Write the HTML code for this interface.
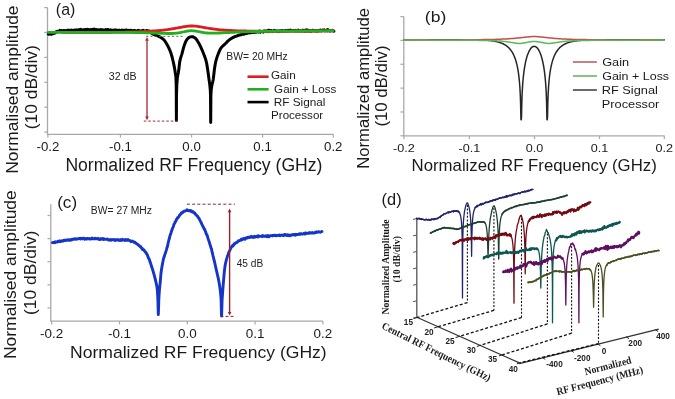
<!DOCTYPE html>
<html><head><meta charset="utf-8"><style>
html,body{margin:0;padding:0;background:#fff;}
svg{display:block;filter:blur(0.25px);}
</style></head><body>
<svg width="675" height="399" viewBox="0 0 675 399">
<rect width="675" height="399" fill="#fff"/>
<line x1="47.5" y1="7.6" x2="47.5" y2="134.4" stroke="#a8a8a8" stroke-width="1.3" />
<line x1="46.9" y1="134.4" x2="333.6" y2="134.4" stroke="#a8a8a8" stroke-width="1.3" />
<line x1="44.2" y1="7.6" x2="47.5" y2="7.6" stroke="#a8a8a8" stroke-width="1.2" />
<line x1="44.2" y1="32.5" x2="47.5" y2="32.5" stroke="#a8a8a8" stroke-width="1.2" />
<line x1="44.2" y1="57.4" x2="47.5" y2="57.4" stroke="#a8a8a8" stroke-width="1.2" />
<line x1="44.2" y1="82.3" x2="47.5" y2="82.3" stroke="#a8a8a8" stroke-width="1.2" />
<line x1="44.2" y1="107.2" x2="47.5" y2="107.2" stroke="#a8a8a8" stroke-width="1.2" />
<line x1="44.2" y1="132.1" x2="47.5" y2="132.1" stroke="#a8a8a8" stroke-width="1.2" />
<line x1="47.9" y1="134.4" x2="47.9" y2="137.6" stroke="#a8a8a8" stroke-width="1.2" />
<text x="47.9" y="150.9" font-family='"Liberation Sans", sans-serif' font-size="12.5" font-weight="normal" fill="#1a1a1a" text-anchor="middle" textLength="22.83" lengthAdjust="spacingAndGlyphs" >-0.2</text>
<line x1="120.4" y1="134.4" x2="120.4" y2="137.6" stroke="#a8a8a8" stroke-width="1.2" />
<text x="120.4" y="150.9" font-family='"Liberation Sans", sans-serif' font-size="12.5" font-weight="normal" fill="#1a1a1a" text-anchor="middle" textLength="22.83" lengthAdjust="spacingAndGlyphs" >-0.1</text>
<line x1="191.6" y1="134.4" x2="191.6" y2="137.6" stroke="#a8a8a8" stroke-width="1.2" />
<text x="191.6" y="150.9" font-family='"Liberation Sans", sans-serif' font-size="12.5" font-weight="normal" fill="#1a1a1a" text-anchor="middle" textLength="18.42" lengthAdjust="spacingAndGlyphs" >0.0</text>
<line x1="262.6" y1="134.4" x2="262.6" y2="137.6" stroke="#a8a8a8" stroke-width="1.2" />
<text x="262.6" y="150.9" font-family='"Liberation Sans", sans-serif' font-size="12.5" font-weight="normal" fill="#1a1a1a" text-anchor="middle" textLength="18.42" lengthAdjust="spacingAndGlyphs" >0.1</text>
<line x1="333.3" y1="134.4" x2="333.3" y2="137.6" stroke="#a8a8a8" stroke-width="1.2" />
<text x="333.3" y="150.9" font-family='"Liberation Sans", sans-serif' font-size="12.5" font-weight="normal" fill="#1a1a1a" text-anchor="middle" textLength="18.42" lengthAdjust="spacingAndGlyphs" >0.2</text>
<text x="65.39" y="170.6" font-family='"Liberation Sans", sans-serif' font-size="17.6" font-weight="normal" fill="#1a1a1a" text-anchor="start" textLength="257.04" lengthAdjust="spacingAndGlyphs" >Normalized RF Frequency (GHz)</text>
<text x="18.4" y="173.79" font-family='"Liberation Sans", sans-serif' font-size="17.4" font-weight="normal" fill="#1a1a1a" text-anchor="start" textLength="168.3" lengthAdjust="spacingAndGlyphs" transform="rotate(-90 18.4 173.79)" >Normalised amplitude</text>
<text x="37" y="129.24" font-family='"Liberation Sans", sans-serif' font-size="16.6" font-weight="normal" fill="#1a1a1a" text-anchor="start" textLength="84.1" lengthAdjust="spacingAndGlyphs" transform="rotate(-90 37 129.24)" >(10 dB/div)</text>
<text x="55.85" y="14.5" font-family='"Liberation Sans", sans-serif' font-size="16.8" font-weight="normal" fill="#1a1a1a" text-anchor="start" textLength="19.45" lengthAdjust="spacingAndGlyphs" >(a)</text>
<text x="226.37" y="59.8" font-family='"Liberation Sans", sans-serif' font-size="10" font-weight="normal" fill="#222" text-anchor="start" textLength="61.33" lengthAdjust="spacingAndGlyphs" >BW= 20 MHz</text>
<text x="108.88" y="79.7" font-family='"Liberation Sans", sans-serif' font-size="10" font-weight="normal" fill="#222" text-anchor="start" textLength="27.69" lengthAdjust="spacingAndGlyphs" >32 dB</text>
<path d="M48.3,34.2 48.8,34.3 49.3,34.1 49.8,33.8 50.3,33.9 50.8,33.7 51,34 51.3,34.4 51.8,33.7 52.3,33.6 52.8,33.8 53.3,33.6 53.8,33.4 54,33 54.3,33.2 54.8,33.2 55.3,32.3 55.8,32.3 56.3,31.6 56.8,31.6 57,31.4 57.3,31.8 57.8,31.3 58.3,31.7 58.8,31.6 59.3,31.4 59.8,30.4 60,31.1 60.3,31.2 60.8,31.2 61.3,30.6 61.8,30.9 62.3,30.7 62.8,30.7 63.3,31.3 63.8,30.6 64.3,30.8 64.8,31.1 65,30.6 65.3,30.7 65.8,30.8 66.3,30.7 66.8,30.3 67.3,30.7 67.8,31.1 68.3,30.1 68.8,30.9 69.3,30.6 69.8,30.3 70.3,31.2 70.8,30.8 71.3,30 71.8,30.5 72.3,30.6 72.8,30.3 73.3,30.6 73.8,30.3 74.3,30.6 74.8,30.8 75,30.1 75.3,30.4 75.8,30.1 76.3,30.3 76.8,29.8 77.3,30 77.8,30.1 78.3,30.4 78.8,30.5 79.3,29.6 79.8,29.7 80.3,30.2 80.8,29.3 81.3,29.8 81.8,29.9 82.3,30.3 82.8,30.1 83.3,29.7 83.8,29.7 84.3,29.7 84.8,30.3 85.3,29.6 85.8,29.6 86.3,29.8 86.8,29.7 87.3,29.6 87.4,29.3 87.8,29.7 88.3,29.5 88.8,30.1 89.3,29.9 89.8,29.7 90.3,30 90.8,29.6 91.3,30.1 91.8,29.8 92.3,30 92.8,29.3 93.3,29.9 93.8,29.2 94.3,29.1 94.8,29.7 95.3,29.5 95.8,29.9 96.3,30.7 96.8,29.6 97.3,29.7 97.8,30 98.3,30.1 98.8,29.9 99.3,29.9 99.8,30.2 100,30.2 100.3,29.6 100.8,30 101.3,30 101.8,29.7 102.3,30.2 102.8,29.8 103.3,30.4 103.8,30.2 104.3,30.1 104.8,29.9 105.3,30.1 105.8,29.5 106.3,29.8 106.8,30.3 107.3,29.5 107.8,30.5 108.3,29.6 108.8,30.5 109.3,30 109.8,30.5 110.3,30.3 110.8,29.8 111.3,30.7 111.8,30.8 112.3,30.3 112.8,30.3 113.3,30.3 113.8,30 114.3,30.8 114.8,30.2 115,30.4 115.3,30.1 115.8,30.2 116.3,30 116.8,30.9 117.3,30.4 117.8,30.8 118.3,30.5 118.8,30.2 119.3,30.4 119.8,30.3 120.3,30.5 120.8,30.4 121.3,30.4 121.8,30.1 122.3,30.3 122.8,31.2 123.3,30.4 123.8,30.2 124.3,30.7 124.8,31.1 125.3,30.1 125.8,30.6 126.3,30.4 126.8,30 127.3,30.9 127.8,30.7 128.3,30.7 128.8,30.4 129.3,30.9 129.8,30.5 130,30.6 130.3,30.3 130.8,30.3 131.3,31.2 131.8,30.5 132.3,30.8 132.8,30.7 133.3,30.6 133.8,30.6 134.3,31 134.8,30.6 135.3,30.7 135.8,30.7 136.3,31.2 136.8,31 137.3,30.9 137.8,30.6 138.3,30.3 138.8,31.1 139.3,31.1 139.8,30.7 140.3,31 140.8,31 141.3,31.1 141.8,31.1 142.3,30.6 142.8,31.3 143.3,30.4 143.8,31.1 144.3,31 144.8,31.2 145.3,31.6 145.8,31.5 146.3,30.7 146.8,30.5 147.3,31.5 147.8,30.9 148,31.3 148.3,31.7 148.8,30.9 149.3,31 149.8,32.1 150.3,32.3 150.8,32.6 151.3,32.9 151.8,33.3 152.3,33.6 152.8,33.9 153.3,34.2 153.8,34.5 154,34.6 154.3,34.7 154.8,34.9 155.3,35.1 155.8,35.3 156.3,35.5 156.8,35.7 157.3,35.9 157.8,36 158.3,36.2 158.8,36.4 159.3,36.7 159.8,36.9 160,37 160.3,37.2 160.8,37.5 161.3,37.8 161.8,38.1 162.3,38.5 162.8,38.9 163.3,39.3 163.8,39.8 164,40 164.3,40.3 164.8,41 165.3,41.7 165.8,42.5 166.3,43.3 166.8,44.2 167,44.5 167.3,45 167.8,45.9 168.3,46.9 168.8,48 169.3,49 169.5,49.5 169.8,50.2 170.3,51.4 170.8,52.8 171.2,54 171.3,54.3 171.8,56 172.3,57.9 172.8,60 173.3,62.1 173.5,63 173.8,64.4 174.3,66.9 174.5,68 174.8,69.8 175.3,73 175.8,76 175.9,77 176.2,85 176.3,95 176.4,120.4 176.5,95 176.8,85 177.3,78.6 177.5,77 177.8,75.3 178.3,73 178.8,69.6 179,68 179.3,65.2 179.7,61.9 179.8,61.4 180.3,59.1 180.8,57.4 181.3,55.9 181.8,54.4 181.9,54 182.3,52.5 182.8,50.6 183.3,48.6 183.8,46.8 184.2,45.6 184.3,45.3 184.8,43.9 185.3,42.6 185.8,41.4 186.3,40.5 186.6,40 186.8,39.7 187.3,39.1 187.8,38.5 188.3,38 188.8,37.6 189.3,37.3 189.6,37.2 189.8,37.1 190.3,37 190.8,36.9 191.3,36.8 191.8,36.7 192.1,36.7 192.3,36.7 192.8,36.8 193.3,37 193.8,37.2 194.3,37.5 194.8,37.8 195.1,38 195.3,38.1 195.8,38.6 196.3,39.2 196.8,39.9 197.3,40.7 197.8,41.5 198.1,42 198.3,42.3 198.8,43.2 199.3,44.2 199.8,45.2 200,45.6 200.3,46.2 200.8,47.2 201.3,48.3 201.8,49.4 202.3,50.5 202.8,51.7 203.3,53 203.8,54.3 204.3,55.5 204.8,56.9 205.3,58.3 205.8,59.9 206.3,61.8 206.7,63.5 206.8,64 207.3,67.3 207.4,68 207.8,70.6 208.3,74 208.8,77.7 209.1,80 209.3,81.4 209.8,85.1 210,87 210.3,90.4 210.5,95 210.7,122.6 210.8,109.4 210.9,95 211.3,89 211.6,87 211.8,85.7 212.3,83.5 212.8,81.5 213.1,80 213.3,78.7 213.8,74.8 213.9,74 214.3,70.4 214.6,68 214.8,66.7 215.3,63.8 215.7,61.9 215.8,61.5 216.3,59.6 216.8,57.9 217.3,56.4 217.8,55 218,54.5 218.3,53.7 218.8,52.5 219.3,51.3 219.8,50.1 220.3,49.1 220.8,48.3 221,48 221.3,47.6 221.8,47 222.3,46.5 222.8,46 223.3,45.5 223.8,45.1 224.3,44.7 224.8,44.2 225,44 225.3,43.7 225.8,43.2 226.3,42.7 226.8,42.1 227.3,41.6 227.8,41.1 228.3,40.7 228.8,40.2 229.1,40 229.3,39.8 229.8,39.5 230.3,39.1 230.8,38.8 231.3,38.5 231.8,38.2 232.3,37.9 232.8,37.7 233.1,37.5 233.3,37.4 233.8,37.2 234.3,36.9 234.8,36.7 235.3,36.5 235.8,36.3 236.3,36.1 236.8,36 237.3,35.8 237.8,35.6 238.1,35.5 238.3,35.4 238.8,35.3 239.3,35.1 239.8,34.9 240.3,34.8 240.8,34.9 241.3,33.9 241.8,34.3 242.3,34 242.8,33.7 243.3,34.2 243.8,33.6 244.3,34.2 244.8,33.3 245.2,33.6 245.3,33.4 245.8,33.1 246.3,33.5 246.8,33.1 247.3,33.3 247.8,33 248.3,32.5 248.8,32.8 249.3,32.8 249.8,33 250.3,32.3 250.8,32.5 251.3,31.8 251.8,32.6 252.3,31.9 252.8,31.6 253.3,32.1 253.8,32.5 254.3,31.5 254.8,31.6 255,31.7 255.3,31.6 255.8,32.1 256.3,31.6 256.8,31.6 257.3,32 257.8,31.5 258.3,31.9 258.8,31.4 259.3,31.3 259.8,31 260.3,32.3 260.8,31.5 261.3,31.6 261.8,31.5 262.3,31.6 262.8,31.5 263.3,32.1 263.8,31.1 264.3,30.9 264.8,31 265.3,30.9 265.8,31.6 266.3,31.6 266.8,31 267.3,30.8 267.8,31.1 268.3,31.7 268.8,30.2 269.3,31.4 269.8,30.8 270,31.6 270.3,30.8 270.8,31.1 271.3,30.6 271.8,30.8 272.3,31.6 272.8,31.4 273.3,31 273.8,30.8 274.3,30.4 274.8,31 275.3,31.1 275.8,31.1 276.3,31 276.8,30.7 277.3,31 277.8,31 278.3,31.5 278.8,31.7 279.3,31 279.8,30.8 280.3,31 280.8,30.8 281.3,30.7 281.8,31 282.3,30.6 282.8,31.2 283.3,30.9 283.8,31.1 284.3,30.9 284.8,30.7 285.3,30.6 285.8,30.9 286.3,30.7 286.8,31 287.3,30.9 287.8,30.4 288.3,30.9 288.8,30.4 289.3,30.7 289.8,30.8 290.3,30.2 290.8,30.9 291.3,30.9 291.8,30.8 292.3,30.7 292.8,30.7 293.3,30.5 293.8,30.8 294.3,30.7 294.8,30.9 295.3,30.4 295.8,30.9 296.3,30.9 296.8,30.8 297.3,30.7 297.8,31 298.3,30.2 298.8,31 299.3,30.9 299.8,30.9 300,30.9 300.3,30.6 300.8,30.7 301.3,31 301.8,30.9 302.3,30.8 302.8,30.2 303.3,31 303.8,31.2 304.3,31.1 304.8,30.8 305.3,30.2 305.8,31.1 306.3,30.7 306.8,29.8 307.3,30.9 307.8,30.2 308.3,30.3 308.8,30.5 309.3,31.1 309.8,30.6 310.3,30.8 310.8,31.3 311.3,31.2 311.8,30.6 312.3,30.6 312.8,30.2 313.3,30.4 313.8,30.8 314.3,30.8 314.8,30.7 315.3,31 315.8,30.4 316.3,30.6 316.8,30.9 317.3,30.8 317.8,31 318.3,30.8 318.8,30.5 319.3,30.7 319.8,30.3 320.3,30 320.8,30.8 321.3,30.6 321.8,30.7 322.3,30 322.8,30.5 323.3,30.4 323.8,30.3 324.3,29.8 324.8,30.4 325.3,30.9 325.8,30.7 326.3,30.3 326.8,30.5 327.3,30.8 327.8,29.6 328.3,30.5 328.8,30.7 329.3,30.8 329.8,31.1 330.3,30.9 330.8,30.6 331.3,30.6 331.8,30.8 332.3,30.3 332.8,30.5 333.3,30.8 333.8,31.2" fill="none" stroke="#000" stroke-width="3.0" stroke-linejoin="round" stroke-linecap="round" />
<path d="M62,32.4 63,32.4 64,32.4 65,32.4 66,32.4 67,32.4 68,32.4 69,32.4 70,32.4 71,32.4 72,32.4 73,32.4 74,32.4 75,32.4 76,32.4 77,32.4 78,32.4 79,32.4 80,32.4 81,32.4 82,32.4 83,32.4 84,32.4 85,32.4 86,32.4 87,32.4 88,32.4 89,32.4 90,32.4 91,32.4 92,32.4 93,32.4 94,32.4 95,32.4 96,32.4 97,32.4 98,32.4 99,32.4 100,32.4 101,32.4 102,32.4 103,32.3 104,32.3 105,32.3 106,32.3 107,32.3 108,32.3 109,32.3 110,32.3 111,32.3 112,32.3 113,32.2 114,32.2 115,32.2 116,32.2 117,32.2 118,32.2 119,32.2 120,32.1 121,32.1 122,32.1 123,32.1 124,32.1 125,32.1 126,32 127,32 128,32 129,32 130,32 131,31.9 132,31.9 133,31.9 134,31.9 135,31.8 136,31.8 137,31.8 138,31.8 139,31.7 140,31.7 141,31.7 142,31.6 143,31.6 144,31.5 145,31.5 146,31.4 147,31.4 148,31.3 149,31.3 150,31.2 151,31.2 152,31.1 153,31 154,31 155,30.9 156,30.8 157,30.7 158,30.6 159,30.6 160,30.5 161,30.4 162,30.3 163,30.2 164,30 165,29.9 166,29.8 167,29.7 168,29.5 169,29.4 170,29.2 171,29.1 172,28.9 173,28.7 174,28.6 175,28.4 176,28.2 177,28 178,27.8 179,27.6 180,27.4 181,27.3 182,27.1 183,26.9 184,26.7 185,26.6 186,26.4 187,26.3 188,26.2 189,26.1 190,26 191,26 192,26 193,26 194,26.1 195,26.1 196,26.2 197,26.3 198,26.5 199,26.6 200,26.8 201,26.9 202,27.1 203,27.3 204,27.5 205,27.6 206,27.8 207,28 208,28.2 209,28.3 210,28.5 211,28.6 212,28.8 213,28.9 214,29.1 215,29.2 216,29.3 217,29.4 218,29.6 219,29.7 220,29.8 221,29.9 222,29.9 223,30 224,30.1 225,30.2 226,30.2 227,30.3 228,30.4 229,30.4 230,30.5 231,30.5 232,30.6 233,30.6 234,30.7 235,30.7 236,30.8 237,30.8 238,30.8 239,30.9 240,30.9 241,30.9 242,30.9 243,31 244,31 245,31 246,31 247,31.1 248,31.1 249,31.1 250,31.1 251,31.1 252,31.1 253,31.1 254,31.2 255,31.2 256,31.2 257,31.2 258,31.2 259,31.2 260,31.2 261,31.2 262,31.2 263,31.2 264,31.2 265,31.2 266,31.2 267,31.2 268,31.3 269,31.3 270,31.3 271,31.3 272,31.3 273,31.3 274,31.3 275,31.3 276,31.3 277,31.3 278,31.3 279,31.3 280,31.3 281,31.3 282,31.3 283,31.3 284,31.3 285,31.3 286,31.3 287,31.2 288,31.2 289,31.2 290,31.2 291,31.2 292,31.2 293,31.2 294,31.2 295,31.2 296,31.2 297,31.2 298,31.2 299,31.1 300,31.1 301,31.1 302,31.1 303,31.1 304,31.1 305,31.1 306,31.1 307,31.1 308,31.1 309,31.1 310,31.1 311,31 312,31 313,31 314,31 315,31 316,31 317,31 318,31 319,31 320,31 321,31 322,31 323,30.9 324,30.9 325,30.9 326,30.9 327,30.9 328,30.9 329,30.9 330,30.9 331,30.9 332,30.9 333,30.9" fill="none" stroke="#e01b1b" stroke-width="2.8" stroke-linejoin="round" stroke-linecap="round" />
<path d="M48,32.3 49,32.3 50,32.3 51,32.3 52,32.3 53,32.3 54,32.3 55,32.3 56,32.3 57,32.3 58,32.3 59,32.3 60,32.3 61,32.3 62,32.3 63,32.3 64,32.3 65,32.3 66,32.3 67,32.3 68,32.3 69,32.3 70,32.3 71,32.3 72,32.3 73,32.3 74,32.3 75,32.3 76,32.3 77,32.3 78,32.3 79,32.3 80,32.3 81,32.3 82,32.3 83,32.3 84,32.3 85,32.3 86,32.3 87,32.3 88,32.3 89,32.3 90,32.3 91,32.3 92,32.3 93,32.3 94,32.3 95,32.3 96,32.3 97,32.3 98,32.3 99,32.3 100,32.3 101,32.3 102,32.3 103,32.3 104,32.3 105,32.3 106,32.3 107,32.3 108,32.3 109,32.3 110,32.3 111,32.3 112,32.3 113,32.3 114,32.3 115,32.3 116,32.3 117,32.3 118,32.3 119,32.3 120,32.3 121,32.3 122,32.3 123,32.3 124,32.3 125,32.4 126,32.4 127,32.4 128,32.4 129,32.4 130,32.4 131,32.4 132,32.4 133,32.5 134,32.5 135,32.5 136,32.5 137,32.5 138,32.6 139,32.6 140,32.6 141,32.6 142,32.7 143,32.7 144,32.7 145,32.7 146,32.8 147,32.8 148,32.8 149,32.8 150,32.9 151,32.9 152,32.9 153,33 154,33 155,33.1 156,33.1 157,33.1 158,33.2 159,33.2 160,33.2 161,33.3 162,33.3 163,33.4 164,33.4 165,33.4 166,33.4 167,33.5 168,33.5 169,33.5 170,33.5 171,33.5 172,33.5 173,33.4 174,33.4 175,33.3 176,33.2 177,33.1 178,33 179,32.8 180,32.6 181,32.4 182,32.2 183,32 184,31.8 185,31.6 186,31.4 187,31.2 188,31 189,30.9 190,30.8 191,30.7 192,30.7 193,30.8 194,30.9 195,31 196,31.1 197,31.3 198,31.5 199,31.7 200,31.9 201,32.1 202,32.3 203,32.5 204,32.6 205,32.8 206,32.9 207,33 208,33.1 209,33.1 210,33.2 211,33.2 212,33.2 213,33.2 214,33.2 215,33.2 216,33.1 217,33.1 218,33 219,33 220,33 221,32.9 222,32.9 223,32.8 224,32.7 225,32.7 226,32.6 227,32.6 228,32.5 229,32.5 230,32.4 231,32.4 232,32.3 233,32.3 234,32.3 235,32.2 236,32.2 237,32.1 238,32.1 239,32 240,32 241,32 242,31.9 243,31.9 244,31.9 245,31.8 246,31.8 247,31.8 248,31.7 249,31.7 250,31.7 251,31.6 252,31.6 253,31.6 254,31.6 255,31.5 256,31.5 257,31.5 258,31.5 259,31.5 260,31.4 261,31.4 262,31.4 263,31.4 264,31.4 265,31.4 266,31.3 267,31.3 268,31.3 269,31.3 270,31.3 271,31.3 272,31.3 273,31.3 274,31.2 275,31.2 276,31.2 277,31.2 278,31.2 279,31.2 280,31.2 281,31.2 282,31.2 283,31.1 284,31.1 285,31.1 286,31.1 287,31.1 288,31.1 289,31.1 290,31.1 291,31.1 292,31.1 293,31.1 294,31 295,31 296,31 297,31 298,31 299,31 300,31 301,31 302,31 303,31 304,31 305,30.9 306,30.9 307,30.9 308,30.9 309,30.9 310,30.9 311,30.9 312,30.9 313,30.9 314,30.9 315,30.9 316,30.9 317,30.8 318,30.8 319,30.8 320,30.8 321,30.8 322,30.8 323,30.8 324,30.8 325,30.8 326,30.8 327,30.8 328,30.7 329,30.7 330,30.7 331,30.7 332,30.7 333,30.7" fill="none" stroke="#22b022" stroke-width="2.8" stroke-linejoin="round" stroke-linecap="round" />
<line x1="147" y1="40.2" x2="147" y2="117" stroke="#a8262e" stroke-width="1.3" />
<path d="M147,37 L145.2,40.7 L148.8,40.7 Z" fill="#a8262e"/>
<path d="M147,120.2 L145.2,116.5 L148.8,116.5 Z" fill="#a8262e"/>
<line x1="146.2" y1="36.3" x2="184.4" y2="36.3" stroke="#5a5a5a" stroke-width="1.0" stroke-dasharray="2,2.3"/>
<line x1="143.8" y1="121.1" x2="177.6" y2="121.1" stroke="#a8262e" stroke-width="1.0" stroke-dasharray="2.5,2"/>
<line x1="247.5" y1="76.7" x2="268.6" y2="76.7" stroke="#e01b1b" stroke-width="2.6" />
<line x1="247.5" y1="89.3" x2="268.6" y2="89.3" stroke="#22b022" stroke-width="2.6" />
<line x1="247.5" y1="102.1" x2="268.6" y2="102.1" stroke="#000" stroke-width="2.6" />
<text x="271.02" y="79.3" font-family='"Liberation Sans", sans-serif' font-size="10.4" font-weight="normal" fill="#1a1a1a" text-anchor="start" textLength="24.67" lengthAdjust="spacingAndGlyphs" >Gain</text>
<text x="274.12" y="92.8" font-family='"Liberation Sans", sans-serif' font-size="10.4" font-weight="normal" fill="#1a1a1a" text-anchor="start" textLength="62.28" lengthAdjust="spacingAndGlyphs" >Gain + Loss</text>
<text x="273.76" y="105.6" font-family='"Liberation Sans", sans-serif' font-size="10.4" font-weight="normal" fill="#1a1a1a" text-anchor="start" textLength="51.72" lengthAdjust="spacingAndGlyphs" >RF Signal</text>
<text x="271.07" y="118.8" font-family='"Liberation Sans", sans-serif' font-size="10.4" font-weight="normal" fill="#1a1a1a" text-anchor="start" textLength="52.12" lengthAdjust="spacingAndGlyphs" >Processor</text>
<line x1="403.8" y1="16.6" x2="403.8" y2="135.8" stroke="#a8a8a8" stroke-width="1.3" />
<line x1="403.2" y1="135.8" x2="664.5" y2="135.8" stroke="#a8a8a8" stroke-width="1.3" />
<line x1="400.4" y1="16.6" x2="403.8" y2="16.6" stroke="#a8a8a8" stroke-width="1.2" />
<line x1="400.4" y1="40.44" x2="403.8" y2="40.44" stroke="#a8a8a8" stroke-width="1.2" />
<line x1="400.4" y1="64.28" x2="403.8" y2="64.28" stroke="#a8a8a8" stroke-width="1.2" />
<line x1="400.4" y1="88.12" x2="403.8" y2="88.12" stroke="#a8a8a8" stroke-width="1.2" />
<line x1="400.4" y1="111.96" x2="403.8" y2="111.96" stroke="#a8a8a8" stroke-width="1.2" />
<line x1="400.4" y1="135.8" x2="403.8" y2="135.8" stroke="#a8a8a8" stroke-width="1.2" />
<line x1="403.9" y1="135.8" x2="403.9" y2="139" stroke="#a8a8a8" stroke-width="1.2" />
<text x="403.9" y="151.9" font-family='"Liberation Sans", sans-serif' font-size="11.8" font-weight="normal" fill="#1a1a1a" text-anchor="middle" textLength="21.76" lengthAdjust="spacingAndGlyphs" >-0.2</text>
<line x1="469.4" y1="135.8" x2="469.4" y2="139" stroke="#a8a8a8" stroke-width="1.2" />
<text x="469.4" y="151.9" font-family='"Liberation Sans", sans-serif' font-size="11.8" font-weight="normal" fill="#1a1a1a" text-anchor="middle" textLength="21.76" lengthAdjust="spacingAndGlyphs" >-0.1</text>
<line x1="534.5" y1="135.8" x2="534.5" y2="139" stroke="#a8a8a8" stroke-width="1.2" />
<text x="534.5" y="151.9" font-family='"Liberation Sans", sans-serif' font-size="11.8" font-weight="normal" fill="#1a1a1a" text-anchor="middle" textLength="17.55" lengthAdjust="spacingAndGlyphs" >0.0</text>
<line x1="599.5" y1="135.8" x2="599.5" y2="139" stroke="#a8a8a8" stroke-width="1.2" />
<text x="599.5" y="151.9" font-family='"Liberation Sans", sans-serif' font-size="11.8" font-weight="normal" fill="#1a1a1a" text-anchor="middle" textLength="17.55" lengthAdjust="spacingAndGlyphs" >0.1</text>
<line x1="664.3" y1="135.8" x2="664.3" y2="139" stroke="#a8a8a8" stroke-width="1.2" />
<text x="664.3" y="151.9" font-family='"Liberation Sans", sans-serif' font-size="11.8" font-weight="normal" fill="#1a1a1a" text-anchor="middle" textLength="17.55" lengthAdjust="spacingAndGlyphs" >0.2</text>
<text x="411.56" y="171.2" font-family='"Liberation Sans", sans-serif' font-size="15.9" font-weight="normal" fill="#1a1a1a" text-anchor="start" textLength="245.23" lengthAdjust="spacingAndGlyphs" >Normalized RF Frequency (GHz)</text>
<text x="368.8" y="168.73" font-family='"Liberation Sans", sans-serif' font-size="15.8" font-weight="normal" fill="#1a1a1a" text-anchor="start" textLength="160.8" lengthAdjust="spacingAndGlyphs" transform="rotate(-90 368.8 168.73)" >Normalized amplitude</text>
<text x="387" y="126.61" font-family='"Liberation Sans", sans-serif' font-size="15.8" font-weight="normal" fill="#1a1a1a" text-anchor="start" textLength="81.12" lengthAdjust="spacingAndGlyphs" transform="rotate(-90 387 126.61)" >(10 dB/div)</text>
<text x="424.85" y="21.6" font-family='"Liberation Sans", sans-serif' font-size="15.5" font-weight="normal" fill="#1a1a1a" text-anchor="start" textLength="21.45" lengthAdjust="spacingAndGlyphs" >(b)</text>
<path d="M404,39.8 404.5,39.8 405,39.8 405.5,39.8 406,39.8 406.5,39.8 407,39.8 407.5,39.8 408,39.8 408.5,39.8 409,39.8 409.5,39.8 410,39.8 410.5,39.8 411,39.8 411.5,39.8 412,39.8 412.5,39.8 413,39.8 413.5,39.8 414,39.8 414.5,39.8 415,39.8 415.5,39.8 416,39.8 416.5,39.8 417,39.8 417.5,39.8 418,39.8 418.5,39.8 419,39.8 419.5,39.8 420,39.8 420.5,39.8 421,39.8 421.5,39.8 422,39.8 422.5,39.8 423,39.8 423.5,39.8 424,39.8 424.5,39.8 425,39.8 425.5,39.8 426,39.8 426.5,39.8 427,39.8 427.5,39.8 428,39.8 428.5,39.8 429,39.8 429.5,39.8 430,39.8 430.5,39.8 431,39.8 431.5,39.8 432,39.7 432.5,39.7 433,39.7 433.5,39.7 434,39.7 434.5,39.7 435,39.7 435.5,39.7 436,39.7 436.5,39.7 437,39.7 437.5,39.7 438,39.7 438.5,39.7 439,39.7 439.5,39.7 440,39.7 440.5,39.7 441,39.7 441.5,39.7 442,39.7 442.5,39.7 443,39.7 443.5,39.7 444,39.7 444.5,39.7 445,39.7 445.5,39.7 446,39.7 446.5,39.7 447,39.7 447.5,39.7 448,39.7 448.5,39.7 449,39.7 449.5,39.7 450,39.7 450.5,39.7 451,39.7 451.5,39.7 452,39.7 452.5,39.7 453,39.7 453.5,39.7 454,39.7 454.5,39.7 455,39.7 455.5,39.7 456,39.7 456.5,39.7 457,39.7 457.5,39.7 458,39.7 458.5,39.7 459,39.7 459.5,39.7 460,39.7 460.5,39.7 461,39.7 461.5,39.7 462,39.7 462.5,39.7 463,39.7 463.5,39.7 464,39.7 464.5,39.7 465,39.7 465.5,39.7 466,39.7 466.5,39.7 467,39.7 467.5,39.7 468,39.7 468.5,39.7 469,39.7 469.5,39.7 470,39.7 470.5,39.7 471,39.7 471.5,39.7 472,39.7 472.5,39.7 473,39.7 473.5,39.8 474,39.8 474.5,39.8 475,39.8 475.5,39.8 476,39.8 476.5,39.8 477,39.8 477.5,39.8 478,39.9 478.5,39.9 479,39.9 479.5,39.9 480,39.9 480.5,39.9 481,40 481.5,40 482,40 482.5,40 483,40.1 483.5,40.1 484,40.1 484.5,40.1 485,40.2 485.5,40.2 486,40.2 486.5,40.3 487,40.3 487.5,40.3 488,40.4 488.5,40.4 489,40.5 489.5,40.5 490,40.6 490.5,40.6 491,40.7 491.5,40.8 492,40.8 492.5,40.9 493,41 493.5,41.1 494,41.1 494.5,41.2 495,41.3 495.5,41.4 496,41.5 496.5,41.6 497,41.7 497.5,41.9 498,42 498.5,42.1 499,42.3 499.5,42.4 500,42.6 500.5,42.8 501,42.9 501.5,43.1 502,43.3 502.5,43.6 503,43.8 503.5,44 504,44.3 504.5,44.6 505,44.9 505.5,45.2 506,45.5 506.5,45.9 507,46.2 507.5,46.6 508,47.1 508.5,47.5 509,48 509.5,48.6 510,49.1 510.5,49.7 511,50.4 511.5,51.1 512,51.9 512.5,52.7 513,53.6 513.5,54.6 514,55.7 514.5,56.9 515,58.2 515.5,59.6 516,61.2 516.5,63 517,65.1 517.5,67.4 518,70.2 518.2,71.4 518.5,73.4 519,77.4 519.2,79.3 519.5,82.5 519.7,85 520,89.4 520.2,93.1 520.5,100.3 520.6,103.4 520.9,117.5 521,119.8 521.2,119.8 521.5,117.4 521.8,103.1 522,97.1 522.2,92.5 522.5,87.1 522.7,84.1 523,80.3 523.2,78.2 523.5,75.3 524,71.2 524.2,69.8 524.5,67.8 525,64.9 525.5,62.4 526,60.2 526.5,58.3 527,56.6 527.5,55.1 528,53.7 528.5,52.5 529,51.4 529.5,50.4 530,49.6 530.5,48.8 531,48.2 531.5,47.6 532,47.2 532.5,46.8 533,46.6 533.5,46.4 534,46.3 534.5,46.4 535,46.4 535.5,46.6 536,46.9 536.5,47.3 537,47.7 537.5,48.3 538,49 538.5,49.7 539,50.6 539.5,51.6 540,52.7 540.5,53.9 541,55.3 541.5,56.9 542,58.7 542.5,60.7 543,62.9 543.5,65.5 544,68.4 544.2,69.8 544.5,71.9 545,76.2 545.2,78.2 545.5,81.5 545.7,84.1 546,88.8 546.2,92.5 546.5,99.9 546.6,103.1 546.9,117.4 547,119.8 547.2,119.8 547.5,117.5 547.8,103.4 548,97.6 548.2,93.1 548.5,87.8 548.7,85 549,81.3 549.2,79.3 549.5,76.5 550,72.7 550.2,71.4 550.5,69.6 551,66.9 551.5,64.6 552,62.6 552.5,60.9 553,59.3 553.5,57.9 554,56.6 554.5,55.5 555,54.4 555.5,53.4 556,52.5 556.5,51.7 557,51 557.5,50.3 558,49.6 558.5,49 559,48.5 559.5,47.9 560,47.4 560.5,47 561,46.6 561.5,46.2 562,45.8 562.5,45.4 563,45.1 563.5,44.8 564,44.5 564.5,44.2 565,44 565.5,43.7 566,43.5 566.5,43.3 567,43.1 567.5,42.9 568,42.7 568.5,42.6 569,42.4 569.5,42.2 570,42.1 570.5,42 571,41.8 571.5,41.7 572,41.6 572.5,41.5 573,41.4 573.5,41.3 574,41.2 574.5,41.1 575,41 575.5,41 576,40.9 576.5,40.8 577,40.8 577.5,40.7 578,40.6 578.5,40.6 579,40.5 579.5,40.5 580,40.4 580.5,40.4 581,40.3 581.5,40.3 582,40.3 582.5,40.2 583,40.2 583.5,40.2 584,40.1 584.5,40.1 585,40.1 585.5,40 586,40 586.5,40 587,40 587.5,40 588,39.9 588.5,39.9 589,39.9 589.5,39.9 590,39.9 590.5,39.9 591,39.8 591.5,39.8 592,39.8 592.5,39.8 593,39.8 593.5,39.8 594,39.8 594.5,39.8 595,39.8 595.5,39.7 596,39.7 596.5,39.7 597,39.7 597.5,39.7 598,39.7 598.5,39.7 599,39.7 599.5,39.7 600,39.7 600.5,39.7 601,39.7 601.5,39.7 602,39.7 602.5,39.7 603,39.7 603.5,39.7 604,39.7 604.5,39.7 605,39.7 605.5,39.7 606,39.7 606.5,39.7 607,39.7 607.5,39.7 608,39.7 608.5,39.7 609,39.7 609.5,39.7 610,39.7 610.5,39.7 611,39.7 611.5,39.7 612,39.7 612.5,39.7 613,39.7 613.5,39.7 614,39.7 614.5,39.7 615,39.7 615.5,39.7 616,39.7 616.5,39.7 617,39.7 617.5,39.7 618,39.7 618.5,39.7 619,39.7 619.5,39.7 620,39.7 620.5,39.7 621,39.7 621.5,39.7 622,39.7 622.5,39.7 623,39.7 623.5,39.7 624,39.7 624.5,39.7 625,39.7 625.5,39.7 626,39.7 626.5,39.7 627,39.7 627.5,39.7 628,39.7 628.5,39.7 629,39.7 629.5,39.7 630,39.7 630.5,39.7 631,39.7 631.5,39.7 632,39.7 632.5,39.7 633,39.7 633.5,39.7 634,39.7 634.5,39.7 635,39.7 635.5,39.7 636,39.7 636.5,39.7 637,39.8 637.5,39.8 638,39.8 638.5,39.8 639,39.8 639.5,39.8 640,39.8 640.5,39.8 641,39.8 641.5,39.8 642,39.8 642.5,39.8 643,39.8 643.5,39.8 644,39.8 644.5,39.8 645,39.8 645.5,39.8 646,39.8 646.5,39.8 647,39.8 647.5,39.8 648,39.8 648.5,39.8 649,39.8 649.5,39.8 650,39.8 650.5,39.8 651,39.8 651.5,39.8 652,39.8 652.5,39.8 653,39.8 653.5,39.8 654,39.8 654.5,39.8 655,39.8 655.5,39.8 656,39.8 656.5,39.8 657,39.8 657.5,39.8 658,39.8 658.5,39.8 659,39.8 659.5,39.8 660,39.8 660.5,39.8 661,39.8 661.5,39.8 662,39.8 662.5,39.8 663,39.8 663.5,39.8 664,39.8 664.3,39.8" fill="none" stroke="#262626" stroke-width="1.5" stroke-linejoin="round" stroke-linecap="round" />
<path d="M404,40 404.5,40 405,40 405.5,40 406,40 406.5,40 407,40 407.5,40 408,40 408.5,40 409,40 409.5,40 410,40 410.5,40 411,40 411.5,40 412,40 412.5,40 413,40 413.5,40 414,40 414.5,40 415,40 415.5,40 416,40 416.5,40 417,40 417.5,40 418,40 418.5,40 419,40 419.5,40 420,40 420.5,40 421,40 421.5,40 422,40 422.5,40 423,40 423.5,40 424,40 424.5,40 425,40 425.5,40 426,40 426.5,40 427,40 427.5,40 428,40 428.5,40 429,40 429.5,40 430,40 430.5,40 431,40 431.5,40 432,40 432.5,40 433,40 433.5,40 434,40 434.5,40 435,40 435.5,40 436,40 436.5,40 437,40 437.5,40 438,40 438.5,40 439,40 439.5,40 440,39.9 440.5,39.9 441,39.9 441.5,39.9 442,39.9 442.5,39.9 443,39.9 443.5,39.9 444,39.9 444.5,39.9 445,39.9 445.5,39.9 446,39.9 446.5,39.9 447,39.9 447.5,39.9 448,39.9 448.5,39.9 449,39.9 449.5,39.9 450,39.9 450.5,39.9 451,39.9 451.5,39.9 452,39.9 452.5,39.9 453,39.9 453.5,39.9 454,39.9 454.5,39.9 455,39.9 455.5,39.9 456,39.9 456.5,39.9 457,39.9 457.5,39.9 458,39.9 458.5,39.9 459,39.9 459.5,39.9 460,39.9 460.5,39.9 461,39.9 461.5,39.9 462,39.9 462.5,39.8 463,39.8 463.5,39.8 464,39.8 464.5,39.8 465,39.8 465.5,39.8 466,39.8 466.5,39.8 467,39.8 467.5,39.8 468,39.8 468.5,39.8 469,39.8 469.5,39.8 470,39.8 470.5,39.8 471,39.8 471.5,39.8 472,39.8 472.5,39.8 473,39.8 473.5,39.8 474,39.8 474.5,39.7 475,39.7 475.5,39.7 476,39.7 476.5,39.7 477,39.7 477.5,39.7 478,39.7 478.5,39.7 479,39.7 479.5,39.7 480,39.7 480.5,39.7 481,39.7 481.5,39.7 482,39.7 482.5,39.6 483,39.6 483.5,39.6 484,39.6 484.5,39.6 485,39.6 485.5,39.6 486,39.6 486.5,39.6 487,39.6 487.5,39.6 488,39.5 488.5,39.5 489,39.5 489.5,39.5 490,39.5 490.5,39.5 491,39.5 491.5,39.5 492,39.5 492.5,39.4 493,39.4 493.5,39.4 494,39.4 494.5,39.4 495,39.4 495.5,39.4 496,39.3 496.5,39.3 497,39.3 497.5,39.3 498,39.3 498.5,39.3 499,39.2 499.5,39.2 500,39.2 500.5,39.2 501,39.2 501.5,39.1 502,39.1 502.5,39.1 503,39.1 503.5,39.1 504,39 504.5,39 505,39 505.5,39 506,38.9 506.5,38.9 507,38.9 507.5,38.8 508,38.8 508.5,38.8 509,38.7 509.5,38.7 510,38.7 510.5,38.6 511,38.6 511.5,38.6 512,38.5 512.5,38.5 513,38.5 513.5,38.4 514,38.4 514.5,38.3 515,38.3 515.5,38.2 516,38.2 516.5,38.1 517,38.1 517.5,38 518,38 518.5,37.9 519,37.9 519.5,37.8 520,37.8 520.5,37.7 521,37.7 521.5,37.6 522,37.5 522.5,37.5 523,37.4 523.5,37.4 524,37.3 524.5,37.3 525,37.2 525.5,37.2 526,37.1 526.5,37.1 527,37 527.5,37 528,36.9 528.5,36.9 529,36.8 529.5,36.8 530,36.7 530.5,36.7 531,36.7 531.5,36.7 532,36.6 532.5,36.6 533,36.6 533.5,36.6 534,36.6 534.5,36.6 535,36.6 535.5,36.6 536,36.6 536.5,36.6 537,36.7 537.5,36.7 538,36.7 538.5,36.8 539,36.8 539.5,36.8 540,36.9 540.5,36.9 541,37 541.5,37 542,37.1 542.5,37.1 543,37.2 543.5,37.2 544,37.3 544.5,37.3 545,37.4 545.5,37.4 546,37.5 546.5,37.6 547,37.6 547.5,37.7 548,37.7 548.5,37.8 549,37.8 549.5,37.9 550,37.9 550.5,38 551,38 551.5,38.1 552,38.1 552.5,38.2 553,38.2 553.5,38.3 554,38.3 554.5,38.4 555,38.4 555.5,38.5 556,38.5 556.5,38.5 557,38.6 557.5,38.6 558,38.7 558.5,38.7 559,38.7 559.5,38.8 560,38.8 560.5,38.8 561,38.8 561.5,38.9 562,38.9 562.5,38.9 563,39 563.5,39 564,39 564.5,39 565,39.1 565.5,39.1 566,39.1 566.5,39.1 567,39.2 567.5,39.2 568,39.2 568.5,39.2 569,39.2 569.5,39.2 570,39.3 570.5,39.3 571,39.3 571.5,39.3 572,39.3 572.5,39.4 573,39.4 573.5,39.4 574,39.4 574.5,39.4 575,39.4 575.5,39.4 576,39.4 576.5,39.5 577,39.5 577.5,39.5 578,39.5 578.5,39.5 579,39.5 579.5,39.5 580,39.5 580.5,39.5 581,39.6 581.5,39.6 582,39.6 582.5,39.6 583,39.6 583.5,39.6 584,39.6 584.5,39.6 585,39.6 585.5,39.6 586,39.6 586.5,39.7 587,39.7 587.5,39.7 588,39.7 588.5,39.7 589,39.7 589.5,39.7 590,39.7 590.5,39.7 591,39.7 591.5,39.7 592,39.7 592.5,39.7 593,39.7 593.5,39.7 594,39.7 594.5,39.8 595,39.8 595.5,39.8 596,39.8 596.5,39.8 597,39.8 597.5,39.8 598,39.8 598.5,39.8 599,39.8 599.5,39.8 600,39.8 600.5,39.8 601,39.8 601.5,39.8 602,39.8 602.5,39.8 603,39.8 603.5,39.8 604,39.8 604.5,39.8 605,39.8 605.5,39.8 606,39.8 606.5,39.9 607,39.9 607.5,39.9 608,39.9 608.5,39.9 609,39.9 609.5,39.9 610,39.9 610.5,39.9 611,39.9 611.5,39.9 612,39.9 612.5,39.9 613,39.9 613.5,39.9 614,39.9 614.5,39.9 615,39.9 615.5,39.9 616,39.9 616.5,39.9 617,39.9 617.5,39.9 618,39.9 618.5,39.9 619,39.9 619.5,39.9 620,39.9 620.5,39.9 621,39.9 621.5,39.9 622,39.9 622.5,39.9 623,39.9 623.5,39.9 624,39.9 624.5,39.9 625,39.9 625.5,39.9 626,39.9 626.5,39.9 627,39.9 627.5,39.9 628,39.9 628.5,39.9 629,40 629.5,40 630,40 630.5,40 631,40 631.5,40 632,40 632.5,40 633,40 633.5,40 634,40 634.5,40 635,40 635.5,40 636,40 636.5,40 637,40 637.5,40 638,40 638.5,40 639,40 639.5,40 640,40 640.5,40 641,40 641.5,40 642,40 642.5,40 643,40 643.5,40 644,40 644.5,40 645,40 645.5,40 646,40 646.5,40 647,40 647.5,40 648,40 648.5,40 649,40 649.5,40 650,40 650.5,40 651,40 651.5,40 652,40 652.5,40 653,40 653.5,40 654,40 654.5,40 655,40 655.5,40 656,40 656.5,40 657,40 657.5,40 658,40 658.5,40 659,40 659.5,40 660,40 660.5,40 661,40 661.5,40 662,40 662.5,40 663,40 663.5,40 664,40" fill="none" stroke="#c0504d" stroke-width="1.5" stroke-linejoin="round" stroke-linecap="round" />
<path d="M404,40.1 404.5,40.1 405,40.1 405.5,40.1 406,40.1 406.5,40.1 407,40.1 407.5,40.1 408,40.1 408.5,40.1 409,40.1 409.5,40.1 410,40.1 410.5,40.1 411,40.1 411.5,40.1 412,40.1 412.5,40.1 413,40.1 413.5,40.1 414,40.1 414.5,40.1 415,40.1 415.5,40.1 416,40.1 416.5,40.1 417,40.1 417.5,40.1 418,40.1 418.5,40.1 419,40.1 419.5,40.1 420,40.1 420.5,40.1 421,40.1 421.5,40.1 422,40.1 422.5,40.1 423,40.1 423.5,40.1 424,40.1 424.5,40.1 425,40.1 425.5,40.1 426,40.1 426.5,40.1 427,40.1 427.5,40.1 428,40.1 428.5,40.1 429,40.2 429.5,40.2 430,40.2 430.5,40.2 431,40.2 431.5,40.2 432,40.2 432.5,40.2 433,40.2 433.5,40.2 434,40.2 434.5,40.2 435,40.2 435.5,40.2 436,40.2 436.5,40.2 437,40.2 437.5,40.2 438,40.2 438.5,40.2 439,40.2 439.5,40.2 440,40.2 440.5,40.2 441,40.2 441.5,40.2 442,40.2 442.5,40.2 443,40.2 443.5,40.2 444,40.2 444.5,40.2 445,40.2 445.5,40.2 446,40.2 446.5,40.2 447,40.2 447.5,40.2 448,40.2 448.5,40.2 449,40.2 449.5,40.2 450,40.2 450.5,40.2 451,40.2 451.5,40.2 452,40.2 452.5,40.2 453,40.2 453.5,40.2 454,40.2 454.5,40.2 455,40.2 455.5,40.2 456,40.2 456.5,40.2 457,40.2 457.5,40.2 458,40.2 458.5,40.2 459,40.2 459.5,40.2 460,40.2 460.5,40.2 461,40.2 461.5,40.2 462,40.2 462.5,40.2 463,40.2 463.5,40.2 464,40.2 464.5,40.2 465,40.2 465.5,40.2 466,40.2 466.5,40.3 467,40.3 467.5,40.3 468,40.3 468.5,40.3 469,40.3 469.5,40.3 470,40.3 470.5,40.3 471,40.3 471.5,40.3 472,40.3 472.5,40.3 473,40.3 473.5,40.3 474,40.3 474.5,40.3 475,40.3 475.5,40.3 476,40.3 476.5,40.3 477,40.3 477.5,40.3 478,40.3 478.5,40.4 479,40.4 479.5,40.4 480,40.4 480.5,40.4 481,40.4 481.5,40.4 482,40.4 482.5,40.4 483,40.4 483.5,40.4 484,40.4 484.5,40.4 485,40.5 485.5,40.5 486,40.5 486.5,40.5 487,40.5 487.5,40.5 488,40.5 488.5,40.5 489,40.5 489.5,40.6 490,40.6 490.5,40.6 491,40.6 491.5,40.6 492,40.6 492.5,40.7 493,40.7 493.5,40.7 494,40.7 494.5,40.7 495,40.8 495.5,40.8 496,40.8 496.5,40.8 497,40.9 497.5,40.9 498,40.9 498.5,41 499,41 499.5,41 500,41.1 500.5,41.1 501,41.1 501.5,41.2 502,41.2 502.5,41.3 503,41.3 503.5,41.4 504,41.4 504.5,41.5 505,41.5 505.5,41.6 506,41.6 506.5,41.7 507,41.8 507.5,41.8 508,41.9 508.5,42 509,42 509.5,42.1 510,42.2 510.5,42.3 511,42.4 511.5,42.5 512,42.5 512.5,42.6 513,42.7 513.5,42.8 514,42.9 514.5,42.9 515,43 515.5,43.1 516,43.2 516.5,43.2 517,43.3 517.5,43.3 518,43.4 518.5,43.4 519,43.4 519.5,43.4 520,43.4 520.5,43.4 521,43.4 521.5,43.3 522,43.3 522.5,43.2 523,43.1 523.5,43.1 524,43 524.5,42.9 525,42.8 525.5,42.7 526,42.6 526.5,42.5 527,42.4 527.5,42.3 528,42.2 528.5,42.1 529,42 529.5,41.9 530,41.8 530.5,41.8 531,41.7 531.5,41.6 532,41.6 532.5,41.6 533,41.5 533.5,41.5 534,41.5 534.5,41.5 535,41.5 535.5,41.5 536,41.6 536.5,41.6 537,41.7 537.5,41.7 538,41.8 538.5,41.9 539,41.9 539.5,42 540,42.1 540.5,42.2 541,42.3 541.5,42.4 542,42.5 542.5,42.6 543,42.7 543.5,42.8 544,42.9 544.5,43 545,43.1 545.5,43.2 546,43.2 546.5,43.3 547,43.3 547.5,43.4 548,43.4 548.5,43.4 549,43.4 549.5,43.4 550,43.4 550.5,43.3 551,43.3 551.5,43.3 552,43.2 552.5,43.1 553,43.1 553.5,43 554,42.9 554.5,42.8 555,42.8 555.5,42.7 556,42.6 556.5,42.5 557,42.4 557.5,42.4 558,42.3 558.5,42.2 559,42.1 559.5,42 560,42 560.5,41.9 561,41.8 561.5,41.7 562,41.7 562.5,41.6 563,41.6 563.5,41.5 564,41.4 564.5,41.4 565,41.3 565.5,41.3 566,41.2 566.5,41.2 567,41.2 567.5,41.1 568,41.1 568.5,41 569,41 569.5,41 570,40.9 570.5,40.9 571,40.9 571.5,40.9 572,40.8 572.5,40.8 573,40.8 573.5,40.8 574,40.7 574.5,40.7 575,40.7 575.5,40.7 576,40.7 576.5,40.6 577,40.6 577.5,40.6 578,40.6 578.5,40.6 579,40.6 579.5,40.5 580,40.5 580.5,40.5 581,40.5 581.5,40.5 582,40.5 582.5,40.5 583,40.5 583.5,40.5 584,40.4 584.5,40.4 585,40.4 585.5,40.4 586,40.4 586.5,40.4 587,40.4 587.5,40.4 588,40.4 588.5,40.4 589,40.4 589.5,40.4 590,40.4 590.5,40.3 591,40.3 591.5,40.3 592,40.3 592.5,40.3 593,40.3 593.5,40.3 594,40.3 594.5,40.3 595,40.3 595.5,40.3 596,40.3 596.5,40.3 597,40.3 597.5,40.3 598,40.3 598.5,40.3 599,40.3 599.5,40.3 600,40.3 600.5,40.3 601,40.3 601.5,40.3 602,40.2 602.5,40.2 603,40.2 603.5,40.2 604,40.2 604.5,40.2 605,40.2 605.5,40.2 606,40.2 606.5,40.2 607,40.2 607.5,40.2 608,40.2 608.5,40.2 609,40.2 609.5,40.2 610,40.2 610.5,40.2 611,40.2 611.5,40.2 612,40.2 612.5,40.2 613,40.2 613.5,40.2 614,40.2 614.5,40.2 615,40.2 615.5,40.2 616,40.2 616.5,40.2 617,40.2 617.5,40.2 618,40.2 618.5,40.2 619,40.2 619.5,40.2 620,40.2 620.5,40.2 621,40.2 621.5,40.2 622,40.2 622.5,40.2 623,40.2 623.5,40.2 624,40.2 624.5,40.2 625,40.2 625.5,40.2 626,40.2 626.5,40.2 627,40.2 627.5,40.2 628,40.2 628.5,40.2 629,40.2 629.5,40.2 630,40.2 630.5,40.2 631,40.2 631.5,40.2 632,40.2 632.5,40.2 633,40.2 633.5,40.2 634,40.2 634.5,40.2 635,40.2 635.5,40.2 636,40.2 636.5,40.2 637,40.2 637.5,40.2 638,40.2 638.5,40.2 639,40.2 639.5,40.2 640,40.1 640.5,40.1 641,40.1 641.5,40.1 642,40.1 642.5,40.1 643,40.1 643.5,40.1 644,40.1 644.5,40.1 645,40.1 645.5,40.1 646,40.1 646.5,40.1 647,40.1 647.5,40.1 648,40.1 648.5,40.1 649,40.1 649.5,40.1 650,40.1 650.5,40.1 651,40.1 651.5,40.1 652,40.1 652.5,40.1 653,40.1 653.5,40.1 654,40.1 654.5,40.1 655,40.1 655.5,40.1 656,40.1 656.5,40.1 657,40.1 657.5,40.1 658,40.1 658.5,40.1 659,40.1 659.5,40.1 660,40.1 660.5,40.1 661,40.1 661.5,40.1 662,40.1 662.5,40.1 663,40.1 663.5,40.1 664,40.1" fill="none" stroke="#5cb85c" stroke-width="1.5" stroke-linejoin="round" stroke-linecap="round" />
<line x1="572.9" y1="62" x2="596.9" y2="62" stroke="#b86262" stroke-width="1.6" />
<line x1="572.9" y1="76" x2="596.9" y2="76" stroke="#66b866" stroke-width="1.6" />
<line x1="572.9" y1="90" x2="596.9" y2="90" stroke="#454545" stroke-width="1.6" />
<text x="602.16" y="65.8" font-family='"Liberation Sans", sans-serif' font-size="11.8" font-weight="normal" fill="#1a1a1a" text-anchor="start" textLength="26.89" lengthAdjust="spacingAndGlyphs" >Gain</text>
<text x="602.18" y="79.8" font-family='"Liberation Sans", sans-serif' font-size="11.8" font-weight="normal" fill="#1a1a1a" text-anchor="start" textLength="66.95" lengthAdjust="spacingAndGlyphs" >Gain + Loss</text>
<text x="601.78" y="93.9" font-family='"Liberation Sans", sans-serif' font-size="11.8" font-weight="normal" fill="#1a1a1a" text-anchor="start" textLength="56.06" lengthAdjust="spacingAndGlyphs" >RF Signal</text>
<text x="601.78" y="107.6" font-family='"Liberation Sans", sans-serif' font-size="11.8" font-weight="normal" fill="#1a1a1a" text-anchor="start" textLength="57.54" lengthAdjust="spacingAndGlyphs" >Processor</text>
<line x1="50.8" y1="204.2" x2="50.8" y2="321.2" stroke="#a8a8a8" stroke-width="1.3" />
<line x1="50.2" y1="321.2" x2="323" y2="321.2" stroke="#a8a8a8" stroke-width="1.3" />
<line x1="47.5" y1="215.5" x2="50.8" y2="215.5" stroke="#a8a8a8" stroke-width="1.2" />
<line x1="47.5" y1="238.6" x2="50.8" y2="238.6" stroke="#a8a8a8" stroke-width="1.2" />
<line x1="47.5" y1="261.7" x2="50.8" y2="261.7" stroke="#a8a8a8" stroke-width="1.2" />
<line x1="47.5" y1="284.8" x2="50.8" y2="284.8" stroke="#a8a8a8" stroke-width="1.2" />
<line x1="47.5" y1="307.9" x2="50.8" y2="307.9" stroke="#a8a8a8" stroke-width="1.2" />
<line x1="51.7" y1="321.2" x2="51.7" y2="324.4" stroke="#a8a8a8" stroke-width="1.2" />
<text x="51.7" y="337.9" font-family='"Liberation Sans", sans-serif' font-size="12.5" font-weight="normal" fill="#1a1a1a" text-anchor="middle" textLength="23.16" lengthAdjust="spacingAndGlyphs" >-0.2</text>
<line x1="119.5" y1="321.2" x2="119.5" y2="324.4" stroke="#a8a8a8" stroke-width="1.2" />
<text x="119.5" y="337.9" font-family='"Liberation Sans", sans-serif' font-size="12.5" font-weight="normal" fill="#1a1a1a" text-anchor="middle" textLength="23.16" lengthAdjust="spacingAndGlyphs" >-0.1</text>
<line x1="187.3" y1="321.2" x2="187.3" y2="324.4" stroke="#a8a8a8" stroke-width="1.2" />
<text x="187.3" y="337.9" font-family='"Liberation Sans", sans-serif' font-size="12.5" font-weight="normal" fill="#1a1a1a" text-anchor="middle" textLength="18.68" lengthAdjust="spacingAndGlyphs" >0.0</text>
<line x1="255.1" y1="321.2" x2="255.1" y2="324.4" stroke="#a8a8a8" stroke-width="1.2" />
<text x="255.1" y="337.9" font-family='"Liberation Sans", sans-serif' font-size="12.5" font-weight="normal" fill="#1a1a1a" text-anchor="middle" textLength="18.68" lengthAdjust="spacingAndGlyphs" >0.1</text>
<line x1="322.9" y1="321.2" x2="322.9" y2="324.4" stroke="#a8a8a8" stroke-width="1.2" />
<text x="322.9" y="337.9" font-family='"Liberation Sans", sans-serif' font-size="12.5" font-weight="normal" fill="#1a1a1a" text-anchor="middle" textLength="18.68" lengthAdjust="spacingAndGlyphs" >0.2</text>
<text x="69.99" y="357.5" font-family='"Liberation Sans", sans-serif' font-size="16.8" font-weight="normal" fill="#1a1a1a" text-anchor="start" textLength="256.74" lengthAdjust="spacingAndGlyphs" >Normalized RF Frequency (GHz)</text>
<text x="16.4" y="359" font-family='"Liberation Sans", sans-serif' font-size="16.6" font-weight="normal" fill="#1a1a1a" text-anchor="start" textLength="168.8" lengthAdjust="spacingAndGlyphs" transform="rotate(-90 16.4 359)" >Normalised amplitude</text>
<text x="36.1" y="315.05" font-family='"Liberation Sans", sans-serif' font-size="16.6" font-weight="normal" fill="#1a1a1a" text-anchor="start" textLength="84.51" lengthAdjust="spacingAndGlyphs" transform="rotate(-90 36.1 315.05)" >(10 dB/div)</text>
<text x="57.17" y="207.6" font-family='"Liberation Sans", sans-serif' font-size="16.8" font-weight="normal" fill="#1a1a1a" text-anchor="start" textLength="19.97" lengthAdjust="spacingAndGlyphs" >(c)</text>
<text x="90.87" y="213.8" font-family='"Liberation Sans", sans-serif' font-size="10" font-weight="normal" fill="#222" text-anchor="start" textLength="61.12" lengthAdjust="spacingAndGlyphs" >BW= 27 MHz</text>
<text x="236.7" y="266.5" font-family='"Liberation Sans", sans-serif' font-size="10" font-weight="normal" fill="#222" text-anchor="start" textLength="26.55" lengthAdjust="spacingAndGlyphs" >45 dB</text>
<path d="M52.5,242.6 53,242.5 53.5,242.5 54,242.7 54.5,242.2 55,242.6 55.5,241.8 56,241.9 56.5,241.9 57,242.1 57.5,242.1 58,241.2 58.5,241.3 59,241.6 59.5,241.3 59.8,240.9 60,241.7 60.5,241.4 61,241.3 61.5,240.9 62,241.3 62.5,240.8 63,241.1 63.5,240.4 64,240.3 64.5,240.6 65,240.2 65.5,240.6 66,240.4 66.5,239.9 67,240.1 67.5,239.9 68,240.3 68.5,239.7 69,239.7 69.3,240.2 69.5,240.4 70,240.3 70.5,239.7 71,239.6 71.5,240 72,239.4 72.5,239.1 73,239.4 73.5,239.4 74,239 74.5,238.7 75,238.7 75.5,239.3 76,238.8 76.5,238.9 77,239 77.5,239 78,238.7 78.5,238.9 79,238.5 79.5,238.6 80,238.3 80.5,239 81,238.6 81.2,238.4 81.5,238.5 82,238.5 82.5,238.8 83,238.1 83.5,238.2 84,238.4 84.5,239.3 85,238.8 85.5,238.5 86,238.7 86.5,239.1 87,238.4 87.5,238.4 88,238.9 88.5,238.7 89,238.7 89.5,238.4 90,239.1 90.5,239.1 91,238.7 91.5,238.8 92,238 92.5,238.8 93,238.5 93.5,238.7 94,238.8 94.5,238.6 95,238.2 95.5,238.8 96,238.5 96.5,238.7 97,238.6 97.5,238.7 98,238.2 98.5,239.3 99,239 99.5,239.3 100,239.6 100.5,239.1 101,238.5 101.3,238.8 101.5,238.8 102,239 102.5,239.2 103,238.6 103.5,239.4 104,238.8 104.5,239.4 105,239.3 105.5,239.3 106,239.4 106.5,239.3 107,239.3 107.5,239 108,239.5 108.5,240.1 109,240.2 109.5,240 110,239.9 110.5,239.5 111,240.2 111.5,239.7 112,239.7 112.5,239.7 113,239.8 113.2,239.7 113.5,239.8 114,239.5 114.5,239.7 115,240.5 115.5,239.8 116,239.8 116.5,240 117,240.1 117.5,239.5 118,239.8 118.5,240.2 119,240 119.5,239.9 120,240.4 120.5,239.7 121,239.9 121.5,239.8 122,240.4 122.5,239.3 123,239.7 123.5,239.8 124,240.1 124.5,240.1 125,240.4 125.5,239.5 126,240.2 126.3,239.9 126.5,239.8 127,240.2 127.5,239.9 128,239.6 128.5,240.3 129,240.1 129.5,240.5 130,240.9 130.5,241 131,241.6 131.5,241.2 132,241 132.5,241.4 133,241.5 133.5,241.6 134,242.3 134.5,242.2 135,242.1 135.5,243.1 136,243.2 136.5,243.6 137,243.8 137.5,244.3 138,244.5 138.5,245.2 139,245.5 139.5,245.9 140,246.5 140.5,246.4 141,247.4 141.5,247.9 142,248.6 142.1,248.2 142.5,249.5 143,249.5 143.5,249.6 144,250 144.5,251 145,251.6 145.5,252 146,252.9 146.5,253.4 146.6,253.9 147,254.2 147.5,255.3 148,256.7 148.5,258.4 149,258.6 149.4,259.8 149.5,259.9 150,261.8 150.5,263 151,264.6 151.5,266.2 151.6,266.5 152,267.7 152.5,269.3 153,270.9 153.5,272.6 153.9,274 154,274.4 154.5,276.2 155,278.1 155.5,280.2 155.8,281.5 156,282.4 156.5,284.6 157,287.5 157.2,289 157.5,292.5 157.9,300 158,303.6 158.3,314.6 158.5,310.5 158.8,300 159,296.2 159.5,289 160,284.3 160.3,281.5 160.5,279 160.9,274 161,273.2 161.5,269.5 162,266.4 162.5,263.8 163,261.3 163.5,258.8 164,257.2 164.5,255.6 165,254 165.5,252.9 166,251.1 166.5,249.6 166.9,247.7 167,247.9 167.5,246.3 168,243.8 168.5,241.5 169,239.5 169.5,238 169.7,236.5 170,235.8 170.5,234.3 171,232.9 171.5,231.1 172,229.9 172.5,228.4 173,227.2 173.5,225.9 174,224.3 174.5,223.5 175,222.8 175.1,222 175.5,221.5 176,220.8 176.5,219.4 177,218.9 177.5,217.7 178,217.6 178.5,217.2 179,216.5 179.5,215.2 180,214.9 180.4,214.2 180.5,214.1 181,214.1 181.5,212.7 182,213 182.5,212.2 183,212.3 183.5,211.6 184,211.1 184.5,211.2 185,211.1 185.5,210.7 186,210.7 186.5,210.3 187,209.7 187.5,210.6 187.6,210.5 188,210.4 188.5,210.4 189,210.8 189.5,210.4 190,210.5 190.5,210.8 191,211.4 191.5,210.8 192,211.8 192.5,211.5 193,211.7 193.5,212.7 194,212.7 194.5,212.7 194.7,213.2 195,213.8 195.5,214.4 196,214.4 196.5,215.2 197,216 197.5,216.2 198,217.2 198.5,217.8 199,218.4 199.5,219.3 200,220.4 200.5,221.4 201,222.2 201.5,223.3 201.8,224.3 202,224.5 202.5,225.6 203,226.7 203.5,227.4 204,228.9 204.5,229 205,230.6 205.5,231.4 206,233.3 206.5,234.5 207,234.8 207.5,236.5 208,238.4 208.5,239.9 208.9,241.1 209,241.2 209.5,242.9 210,244.5 210.5,245.9 211,248 211.5,248.8 212,251.7 212.5,253.3 213,256 213.3,256.9 213.5,257.6 214,260 214.5,261.6 215,264 215.5,266.2 216,268.4 216.5,270.7 216.8,272 217,272.9 217.5,275 218,277.1 218.5,279.5 218.6,280 219,282.1 219.5,285 220,288.4 220.2,290 220.5,292.5 221,298.4 221.1,300 221.5,314.7 221.6,316.1 222,303 222.1,300 222.5,293.8 222.8,290 223,287.4 223.5,281.2 223.6,280 224,275.2 224.3,272 224.5,270.2 225,266.2 225.2,265 225.5,263.5 226,261.4 226.5,259.2 227,258 227.5,255.8 228,255 228.5,253.2 229,251.9 229.5,250.9 230,250.1 230.5,248.7 231,247.7 231.5,247.1 232,246.1 232.5,245.8 233,246 233.5,244.6 234,244.6 234.5,243.5 235,243.6 235.5,243 236,242.7 236.5,242.5 237,242.5 237.5,241.7 238,241.4 238.5,240.8 239,241 239.5,240.5 240,240.5 240.5,240 241,240.3 241.5,239 242,239.3 242.5,239.5 243,238.9 243.1,238.8 243.5,238.8 244,238.3 244.5,238.6 245,239.1 245.5,238.6 246,237.8 246.5,237.7 247,237.7 247.5,238 248,237.3 248.5,237.3 249,237.6 249.5,237.6 250,237.1 250.1,236.9 250.5,236.7 251,236.9 251.5,236.4 252,237.2 252.5,236.7 253,237 253.5,237.4 254,237.1 254.5,236.4 255,237 255.5,237 256,236.4 256.5,236.3 257,236.5 257.5,236.1 258,237 258.5,235.8 259,236.1 259.5,236.3 260,236.3 260.5,236.4 261,236.4 261.5,236.3 262,236.7 262.5,235.6 263,236.3 263.5,236 264,236.3 264.5,236.3 265,235.9 265.5,235.9 266,236.3 266.1,236.2 266.5,235.9 267,236.7 267.5,236.7 268,235.5 268.5,236 269,236.7 269.5,236.1 270,235.9 270.5,235.7 271,235.6 271.5,235.7 272,235.5 272.5,235.9 273,235.5 273.5,235.5 274,235.2 274.5,235.5 275,235.2 275.5,235.4 276,235.8 276.5,235.5 277,235.6 277.2,235.5 277.5,235.4 278,235.3 278.5,235.3 279,235.6 279.5,235 280,235.7 280.5,235.3 281,235.1 281.5,235.1 282,235.1 282.5,235.3 283,235 283.5,235.6 284,235 284.5,234.5 285,235 285.5,234.6 286,235.2 286.5,235.5 287,235.3 287.5,234.7 288,234.9 288.3,235.6 288.5,235.2 289,235.1 289.5,235.4 290,235.7 290.5,235.4 291,235 291.5,235 292,235.1 292.5,234.7 293,234.5 293.5,234.8 294,234.4 294.5,234.6 295,234.6 295.5,235.3 296,234.3 296.5,234.4 297,234.4 297.5,234.5 298,234.6 298.5,234.1 299,234 299.4,233.7 299.5,233.9 300,234.3 300.5,234.1 301,233.7 301.5,233.9 302,234 302.5,234 303,233.7 303.5,233.7 304,233.2 304.5,233.3 305,234.1 305.5,232.9 306,233.4 306.5,233.5 307,233.3 307.5,233.1 308,233.3 308.5,233.2 309,233.2 309.5,232.6 310,233 310.5,232.8 310.6,232.8 311,233 311.5,233.1 312,233.1 312.5,232.6 313,233 313.5,233 314,233 314.5,233 315,232.5 315.5,232.4 316,232.6 316.5,231.9 317,232.3 317.5,232.1 318,232 318.5,231.6 319,231.8 319.5,232 320,232.2 320.5,232.2 321,231.8 321.5,231.7 321.9,231.5" fill="none" stroke="#1535c8" stroke-width="2.9" stroke-linejoin="round" stroke-linecap="round" />
<line x1="229.6" y1="211.8" x2="229.6" y2="312.4" stroke="#9a2030" stroke-width="1.4" />
<path d="M229.6,208.6 L227.8,212.3 L231.4,212.3 Z" fill="#9a2030"/>
<path d="M229.6,315.6 L227.8,311.9 L231.4,311.9 Z" fill="#9a2030"/>
<line x1="186.9" y1="204.2" x2="234.9" y2="204.2" stroke="#9a2030" stroke-width="1.0" stroke-dasharray="3,2.2"/>
<line x1="220.5" y1="316.4" x2="234.5" y2="316.4" stroke="#9a2030" stroke-width="1.0" stroke-dasharray="3,2"/>
<line x1="416.8" y1="217.8" x2="416.8" y2="317.2" stroke="#555" stroke-width="1.3" />
<line x1="413" y1="219.4" x2="416.8" y2="218.6" stroke="#555" stroke-width="1.0" />
<line x1="413" y1="235.85" x2="416.8" y2="235.05" stroke="#555" stroke-width="1.0" />
<line x1="413" y1="252.3" x2="416.8" y2="251.5" stroke="#555" stroke-width="1.0" />
<line x1="413" y1="268.75" x2="416.8" y2="267.95" stroke="#555" stroke-width="1.0" />
<line x1="413" y1="285.2" x2="416.8" y2="284.4" stroke="#555" stroke-width="1.0" />
<line x1="413" y1="301.65" x2="416.8" y2="300.85" stroke="#555" stroke-width="1.0" />
<line x1="413" y1="318.1" x2="416.8" y2="317.3" stroke="#555" stroke-width="1.0" />
<line x1="416.8" y1="317.2" x2="520.5" y2="363.4" stroke="#333" stroke-width="1.25" />
<line x1="519.4" y1="363.6" x2="658.7" y2="329.1" stroke="#333" stroke-width="1.25" />
<line x1="542.5" y1="357.5" x2="545.2" y2="359.4" stroke="#222" stroke-width="1.0" />
<line x1="571" y1="350.45" x2="573.7" y2="352.35" stroke="#222" stroke-width="1.0" />
<line x1="597.7" y1="343.83" x2="600.4" y2="345.73" stroke="#222" stroke-width="1.0" />
<line x1="626.2" y1="336.77" x2="628.9" y2="338.67" stroke="#222" stroke-width="1.0" />
<line x1="655.3" y1="329.57" x2="658" y2="331.47" stroke="#222" stroke-width="1.0" />
<text x="381.6" y="205" font-family='"Liberation Sans", sans-serif' font-size="16" font-weight="normal" fill="#1a1a1a" text-anchor="start" textLength="20" lengthAdjust="spacingAndGlyphs" >(d)</text>
<line x1="467.4" y1="205" x2="467.4" y2="302.6" stroke="#111" stroke-width="1.1" stroke-dasharray="2,1.6"/>
<line x1="467.4" y1="302.6" x2="416.9" y2="317.6" stroke="#111" stroke-width="1.3" stroke-dasharray="3,2"/>
<line x1="417.7" y1="317.3" x2="413.7" y2="318.6" stroke="#222" stroke-width="1.0" />
<path d="M416.6,218.5 417,218.4 417.4,218.7 417.8,219 418.2,218.7 418.6,218.4 419,218.6 419.4,218.5 419.8,218.6 420.2,219.3 420.6,219.1 421,218.7 421.4,219.3 421.8,219.5 422.2,219.2 422.6,219.2 423,219.3 423.4,219.5 423.8,219.6 424.2,219.8 424.6,219.8 425,219.8 425.4,219.9 425.8,219.7 426.2,219.2 426.6,219.6 427,219.7 427.4,219.6 427.8,219.9 428.2,219.6 428.6,219.5 429,220.1 429.4,219.9 429.8,219.8 430.2,220 430.6,220.1 431,219.9 431.4,219.1 431.8,219.4 432.2,219.4 432.6,219.2 433,219.4 433.4,219.6 433.8,219.1 434.2,218.8 434.6,219.5 435,218.8 435.4,218.6 435.8,218.9 436.2,218.8 436.6,218.5 437,218.8 437.4,218.4 437.8,218.1 438.2,218.1 438.6,217.9 439,217.3 439.4,217.3 439.8,216.9 440.2,217.4 440.6,216.2 441,216.4 441.4,215.8 441.8,215.5 442.2,215.4 442.6,215.2 443,215 443.4,214.5 443.8,214 444.2,213.8 444.6,213.8 445,213.7 445.4,213.7 445.8,213.4 446.2,213.4 446.6,213.4 447,212.9 447.4,212.4 447.8,212.3 448.2,212.1 448.6,212.8 449,212 449.4,212.4 449.8,212.1 450.2,212.3 450.6,212 451,211.6 451.4,211.5 451.8,211.5 452.2,211.5 452.6,211.2 453,211.3 453.4,211.7 453.8,210.8 454.2,211.2 454.6,210.9 455,211.1 455.4,211.3 455.8,211 456.2,211.3 456.6,210.7 457,211.4 457.4,211.1 457.8,211.5 458.2,211.6 458.6,211.2 459,212 459.4,212.8 459.5,212.9 459.8,213.4 460.2,214.5 460.5,215.6 460.6,216 461,218.2 461.4,221.5 461.5,222.7 461.8,227.1 461.9,229.1 462.2,238.5 462.5,298 462.6,253.8 462.8,238 463,230.7 463.1,228.1 463.4,222.3 463.5,220.9 463.8,217.3 464,215.5 464.2,213.9 464.5,211.8 464.6,211.2 465,209.1 465.4,207.4 465.5,207 465.8,205.6 466.2,204.4 466.6,203.7 467,202.9 467.4,203 467.8,203.3 468.2,204.6 468.6,205.7 469,207.1 469.4,209 469.6,210.1 469.8,211.3 470.1,213.5 470.2,214.4 470.6,218.8 471,225.8 471.3,235.6 471.4,241.4 471.6,256.3 471.8,241.6 471.9,235.9 472.2,226.3 472.6,219.7 473,215.8 473.1,215 473.4,213.1 473.6,212.2 473.8,211.3 474.2,210 474.6,209 475,208.1 475.4,207.1 475.8,207.1 476.2,206.9 476.6,206.8 477,205.6 477.4,206.5 477.8,205.4 478.2,205.7 478.6,205.5 479,205.3 479.4,204.9 479.8,204.4 480.2,204.7 480.6,204.2 481,203.6 481.4,204.8 481.8,204.2 482.2,204.3 482.6,203.5 483,204 483.4,203.9 483.8,203.7 484.2,203.2 484.6,202.8 485,202.9 485.4,202.3 485.8,202.3 486.2,202.6 486.6,202.2 487,202.3 487.4,202.2 487.8,202.5 488.2,202.2 488.6,201.8 489,202 489.4,201.3 489.8,201.3 490.2,201.5 490.6,200.8 491,201 491.4,200.6 491.8,200.8 492.2,201.1 492.6,200.3 493,200.5 493.4,200 493.8,199.9 494.2,199.7 494.6,200.3 495,200.4 495.4,199.8 495.8,199.3 496.2,199.6 496.6,199.2 497,199.3 497.4,199.1 497.8,199 498.2,198.9 498.6,198.5 499,198.4 499.4,198 499.8,198.2 500.2,197.8 500.6,198 501,197.7 501.4,197.9 501.8,197.9 502.2,197.3 502.6,197.3 503,197.2 503.4,197.5 503.8,197.6 504.2,197.3 504.6,196.9 505,197.2 505.4,196.4 505.8,197 506.2,196.4 506.6,195.7 507,197 507.4,196.6 507.8,195.9 508.2,196.1 508.6,195.9 509,195.8 509.4,195.3 509.8,195.4 510.2,195.6 510.6,195.4 511,195.6 511.4,195.2 511.8,195.6 512.2,194.8 512.6,194.9 513,194.2 513.4,194.3 513.8,194.8 514.2,194.2 514.6,194.4 515,194.2 515.4,193.8 515.8,193.9 516.2,193.7 516.6,193.6 517,193.8 517.4,193.7 517.8,193.3 518.2,193.1 518.6,193.3 519,193.1 519.4,193.3 519.8,193.6 520.2,193 520.6,192.7 521,192.5 521.4,192.3 521.8,192.1 522.2,192 522.6,192 523,191.9 523.4,192.1 523.8,191.7 524.2,191.7 524.6,191.3 525,191.9 525.4,191.5 525.8,191.7 526.2,191.4 526.6,191.4 527,190.9 527.4,191 527.8,191.4 528.2,190.3 528.6,190.8 529,190.9 529.4,190.4 529.8,190.4 530.2,190.4 530.6,189.8 531,190 531.4,189.6 531.8,189.5 532.2,189.4 532.6,189.4 532.8,189.4" fill="none" stroke="#23236e" stroke-width="1.3" stroke-linejoin="round" stroke-linecap="round" />
<path d="M416.6,218.5 417,218.4 417.4,218.7 417.8,219 418.2,218.7 418.6,218.4 419,218.6 419.4,218.5 419.8,218.6 420.2,219.3 420.6,219.1 421,218.7 421.4,219.3 421.8,219.5 422.2,219.2 422.6,219.2 423,219.3 423.4,219.5 423.8,219.6 424.2,219.8 424.6,219.8 425,219.8 425.4,219.9 425.8,219.7 426.2,219.2 426.6,219.6 427,219.7 427.4,219.6 427.8,219.9 428.2,219.6 428.6,219.5 429,220.1 429.4,219.9 429.8,219.8 430.2,220 430.6,220.1 431,219.9 431.4,219.1 431.8,219.4 432.2,219.4 432.6,219.2 433,219.4 433.4,219.6 433.8,219.1 434.2,218.8 434.6,219.5 435,218.8 435.4,218.6 435.8,218.9 436.2,218.8 436.6,218.5 437,218.8 437.4,218.4 437.8,218.1 438.2,218.1 438.6,217.9 439,217.3 439.4,217.3 439.8,216.9 440.2,217.4 440.6,216.2 441,216.4 441.4,215.8 441.8,215.5 442.2,215.4 442.6,215.2 443,215 443.4,214.5 443.8,214 444.2,213.8 444.6,213.8 445,213.7 445.4,213.7 445.8,213.4 446.2,213.4 446.6,213.4 447,212.9 447.4,212.4 447.8,212.3 448.2,212.1 448.6,212.8 449,212 449.4,212.4 449.8,212.1 450.2,212.3 450.6,212 451,211.6 451.4,211.5 451.8,211.5 452.2,211.5 452.6,211.2 453,211.3 453.4,211.7 453.8,210.8 454.2,211.2 454.6,210.9 455,211.1 455.4,211.3 455.8,211 456.2,211.3 456.6,210.7 457,211.4 457.4,211.1 457.8,211.5 458.2,211.6 458.6,211.2 459,212 459.4,212.8" fill="none" stroke="#23236e" stroke-width="1.45" stroke-linejoin="round" stroke-linecap="round" />
<path d="M475,208.1 475.4,207.1 475.8,207.1 476.2,206.9 476.6,206.8 477,205.6 477.4,206.5 477.8,205.4 478.2,205.7 478.6,205.5 479,205.3 479.4,204.9 479.8,204.4 480.2,204.7 480.6,204.2 481,203.6 481.4,204.8 481.8,204.2 482.2,204.3 482.6,203.5 483,204 483.4,203.9 483.8,203.7 484.2,203.2 484.6,202.8 485,202.9 485.4,202.3 485.8,202.3 486.2,202.6 486.6,202.2 487,202.3 487.4,202.2 487.8,202.5 488.2,202.2 488.6,201.8 489,202 489.4,201.3 489.8,201.3 490.2,201.5 490.6,200.8 491,201 491.4,200.6 491.8,200.8 492.2,201.1 492.6,200.3 493,200.5 493.4,200 493.8,199.9 494.2,199.7 494.6,200.3 495,200.4 495.4,199.8 495.8,199.3 496.2,199.6 496.6,199.2 497,199.3 497.4,199.1 497.8,199 498.2,198.9 498.6,198.5 499,198.4 499.4,198 499.8,198.2 500.2,197.8 500.6,198 501,197.7 501.4,197.9 501.8,197.9 502.2,197.3 502.6,197.3 503,197.2 503.4,197.5 503.8,197.6 504.2,197.3 504.6,196.9 505,197.2 505.4,196.4 505.8,197 506.2,196.4 506.6,195.7 507,197 507.4,196.6 507.8,195.9 508.2,196.1 508.6,195.9 509,195.8 509.4,195.3 509.8,195.4 510.2,195.6 510.6,195.4 511,195.6 511.4,195.2 511.8,195.6 512.2,194.8 512.6,194.9 513,194.2 513.4,194.3 513.8,194.8 514.2,194.2 514.6,194.4 515,194.2 515.4,193.8 515.8,193.9 516.2,193.7 516.6,193.6 517,193.8 517.4,193.7 517.8,193.3 518.2,193.1 518.6,193.3 519,193.1 519.4,193.3 519.8,193.6 520.2,193 520.6,192.7 521,192.5 521.4,192.3 521.8,192.1 522.2,192 522.6,192 523,191.9 523.4,192.1 523.8,191.7 524.2,191.7 524.6,191.3 525,191.9 525.4,191.5 525.8,191.7 526.2,191.4 526.6,191.4 527,190.9 527.4,191 527.8,191.4 528.2,190.3 528.6,190.8 529,190.9 529.4,190.4 529.8,190.4 530.2,190.4 530.6,189.8 531,190 531.4,189.6 531.8,189.5 532.2,189.4 532.6,189.4 532.8,189.4" fill="none" stroke="#23236e" stroke-width="1.45" stroke-linejoin="round" stroke-linecap="round" />
<line x1="493.9" y1="207.89" x2="493.9" y2="310.4" stroke="#111" stroke-width="1.1" stroke-dasharray="2,1.6"/>
<line x1="493.9" y1="310.4" x2="437.3" y2="327" stroke="#111" stroke-width="1.3" stroke-dasharray="3,2"/>
<line x1="438.1" y1="326.7" x2="434.1" y2="328" stroke="#222" stroke-width="1.0" />
<path d="M430.4,233.1 430.8,232.6 431.2,232.9 431.6,232.6 432,232.4 432.4,232 432.8,231.9 433.2,231.8 433.6,231.6 434,231.1 434.4,231.3 434.8,231.4 435.2,230.5 435.6,230.8 436,230.5 436.4,230.2 436.8,230.3 437.2,229.7 437.6,229.8 438,229.9 438.4,229.5 438.8,229.3 439.2,229.3 439.6,229.1 440,229.3 440.4,228.8 440.8,228.9 441.2,228.5 441.6,228.6 442,228.4 442.4,227.9 442.8,228.1 443.2,227.8 443.6,227.8 444,228 444.4,227.4 444.8,227.5 445.2,227.9 445.6,227.7 446,228 446.4,227.8 446.8,227.7 447.2,227.9 447.6,228.1 448,228.1 448.4,228 448.8,228.1 449.2,228.1 449.6,228 450,228.5 450.4,228.2 450.8,228.1 451.2,228.2 451.6,228.5 452,228.5 452.4,228.5 452.8,228.4 453.2,228.6 453.6,228.4 454,228.5 454.4,228.9 454.8,228.7 455.2,228.9 455.6,229.1 456,229.1 456.4,229 456.8,229.4 457.2,229.2 457.6,229.1 458,229.4 458.4,229.3 458.8,228.9 459.2,228.9 459.6,228.7 460,228.2 460.4,228.3 460.8,228.2 461.2,228 461.6,227.6 462,227.7 462.4,227.5 462.8,227.4 463.2,227 463.6,227.1 464,226.7 464.4,226.7 464.8,226.8 465.2,226.3 465.6,226.2 466,226.3 466.4,225.9 466.8,225.8 467.2,225.7 467.6,225.7 468,225 468.4,225.1 468.8,224.9 469.2,224.8 469.6,224.6 470,224.5 470.4,224.5 470.8,224.2 471.2,224.2 471.6,224.1 472,223.8 472.4,223.8 472.8,223.9 473.2,223.5 473.6,223.3 474,223.2 474.4,223 474.8,223 475.2,223 475.6,222.6 476,222.6 476.4,222.7 476.8,222.3 477.2,222.3 477.6,222 478,221.9 478.4,221.8 478.8,222.1 479.2,221.7 479.6,221.7 480,221.8 480.4,221.9 480.8,222.1 481.2,222 481.6,222.2 482,221.8 482.4,222 482.8,221.8 483.2,221.9 483.6,221.7 484,222 484.4,222.3 484.8,222.7 485.1,223.1 485.2,223.3 485.6,224.1 486,225.3 486.1,225.7 486.4,227.1 486.6,228.3 486.8,229.8 487.1,232.8 487.2,234 487.5,239.2 487.6,241.6 487.8,248.5 488,255.1 488.1,255.1 488.4,247.7 488.7,237.6 488.8,235.3 489.1,230.1 489.2,228.7 489.6,224.3 490,220.9 490.1,220.2 490.4,218.2 490.8,215.9 491.1,214.3 491.2,213.8 491.6,212 492,210 492.4,208.9 492.8,207.3 493.2,206.5 493.6,206 494,205.8 494.4,206.2 494.8,207 495.2,208.4 495.6,209.9 495.7,210.2 496,211.6 496.4,213.7 496.7,215.5 496.8,216.2 497.2,219.4 497.6,223.6 497.7,225 498,230 498.1,232.2 498.4,242.2 498.7,259.1 498.8,258.1 499,242.6 499.2,235.5 499.3,233.1 499.6,227.7 499.7,226.4 500,223.2 500.2,221.6 500.4,220.3 500.7,218.6 500.8,218.2 501.2,216.6 501.6,215.5 501.7,215.2 502,214.6 502.4,213.5 502.8,213.2 503.2,212.8 503.6,212.2 504,211.9 504.4,211.2 504.8,211.4 505.2,210.9 505.6,210.9 506,210.2 506.4,210.4 506.8,210 507.2,209.9 507.6,209.5 508,209.3 508.4,209.5 508.8,208.9 509.2,208.7 509.6,208.6 510,208.3 510.4,208.4 510.8,208.4 511.2,207.8 511.6,207.5 512,207.8 512.4,207.7 512.8,207.5 513.2,207.4 513.6,206.9 514,206.9 514.4,206.6 514.8,206.4 515.2,206.6 515.6,206.2 516,206.5 516.4,206.1 516.8,205.8 517.2,205.9 517.6,205.9 518,205.6 518.4,205.3 518.8,205.4 519.2,205.5 519.6,205.1 520,205 520.4,205.2 520.8,205 521.2,204.8 521.6,204.8 522,204.7 522.4,204.7 522.8,204.6 523.2,204.7 523.6,204.6 524,204.2 524.4,204.4 524.8,204.4 525.2,204.2 525.6,204.2 526,203.9 526.4,203.8 526.8,204 527.2,203.6 527.6,203.4 528,203.8 528.4,203.5 528.8,203.4 529.2,203.2 529.6,203.2 530,203.2 530.4,203.2 530.8,203.3 531.2,202.8 531.6,203.2 532,202.9 532.4,202.8 532.8,203.1 533.2,202.9 533.6,202.6 534,203.1 534.4,202.6 534.8,202.7 535.2,202.7 535.6,202.8 536,202.4 536.4,202.6 536.8,202.2 537.2,202.4 537.6,202.1 538,202.1 538.4,202.3 538.8,202 539.2,201.9 539.6,202.2 540,201.8 540.4,201.5 540.8,201.7 541.2,201.3 541.6,201.6 542,201.5 542.4,201.2 542.8,201.1 543.2,201.2 543.6,201.1 544,200.8 544.4,201 544.8,200.5 545.2,200.7 545.6,200.6 546,200.5 546.4,200.6 546.8,200.3 547.2,200.4 547.6,200.3 548,200.1 548.4,199.9 548.8,199.9 549.2,200 549.6,199.8 550,199.8 550.4,199.9 550.8,199.8 551.2,199.8 551.6,199.5 552,199.3 552.4,199.5 552.8,199.3 553.2,199.4 553.6,199.1 554,199.2 554.4,199 554.8,198.9 555.2,198.7 555.6,198.6 556,198.5 556.4,198.4 556.8,198.4 557.2,198 557.6,198.3 558,197.9 558.4,197.9 558.8,197.6 559.2,197.5 559.6,197.7 560,197.3 560.4,197 560.8,197 561.2,196.9 561.6,197.2 562,196.8 562.4,196.8 562.8,196.4 563.2,196.5 563.6,196.4 564,196.5 564.4,196 564.8,196.1 565.2,195.9 565.6,195.6 566,195.7 566.4,195.5 566.8,195.1 567.2,195.4 567.3,195.4" fill="none" stroke="#1c3f2c" stroke-width="1.3" stroke-linejoin="round" stroke-linecap="round" />
<path d="M430.4,233.1 430.8,232.6 431.2,232.9 431.6,232.6 432,232.4 432.4,232 432.8,231.9 433.2,231.8 433.6,231.6 434,231.1 434.4,231.3 434.8,231.4 435.2,230.5 435.6,230.8 436,230.5 436.4,230.2 436.8,230.3 437.2,229.7 437.6,229.8 438,229.9 438.4,229.5 438.8,229.3 439.2,229.3 439.6,229.1 440,229.3 440.4,228.8 440.8,228.9 441.2,228.5 441.6,228.6 442,228.4 442.4,227.9 442.8,228.1 443.2,227.8 443.6,227.8 444,228 444.4,227.4 444.8,227.5 445.2,227.9 445.6,227.7 446,228 446.4,227.8 446.8,227.7 447.2,227.9 447.6,228.1 448,228.1 448.4,228 448.8,228.1 449.2,228.1 449.6,228 450,228.5 450.4,228.2 450.8,228.1 451.2,228.2 451.6,228.5 452,228.5 452.4,228.5 452.8,228.4 453.2,228.6 453.6,228.4 454,228.5 454.4,228.9 454.8,228.7 455.2,228.9 455.6,229.1 456,229.1 456.4,229 456.8,229.4 457.2,229.2 457.6,229.1 458,229.4 458.4,229.3 458.8,228.9 459.2,228.9 459.6,228.7 460,228.2 460.4,228.3 460.8,228.2 461.2,228 461.6,227.6 462,227.7 462.4,227.5 462.8,227.4 463.2,227 463.6,227.1 464,226.7 464.4,226.7 464.8,226.8 465.2,226.3 465.6,226.2 466,226.3 466.4,225.9 466.8,225.8 467.2,225.7 467.6,225.7 468,225 468.4,225.1 468.8,224.9 469.2,224.8 469.6,224.6 470,224.5 470.4,224.5 470.8,224.2 471.2,224.2 471.6,224.1 472,223.8 472.4,223.8 472.8,223.9 473.2,223.5 473.6,223.3 474,223.2 474.4,223 474.8,223 475.2,223 475.6,222.6 476,222.6 476.4,222.7 476.8,222.3 477.2,222.3 477.6,222 478,221.9 478.4,221.8 478.8,222.1 479.2,221.7 479.6,221.7 480,221.8 480.4,221.9 480.8,222.1 481.2,222 481.6,222.2 482,221.8 482.4,222 482.8,221.8 483.2,221.9 483.6,221.7 484,222 484.4,222.3 484.8,222.7" fill="none" stroke="#1c3f2c" stroke-width="1.45" stroke-linejoin="round" stroke-linecap="round" />
<path d="M502,214.6 502.4,213.5 502.8,213.2 503.2,212.8 503.6,212.2 504,211.9 504.4,211.2 504.8,211.4 505.2,210.9 505.6,210.9 506,210.2 506.4,210.4 506.8,210 507.2,209.9 507.6,209.5 508,209.3 508.4,209.5 508.8,208.9 509.2,208.7 509.6,208.6 510,208.3 510.4,208.4 510.8,208.4 511.2,207.8 511.6,207.5 512,207.8 512.4,207.7 512.8,207.5 513.2,207.4 513.6,206.9 514,206.9 514.4,206.6 514.8,206.4 515.2,206.6 515.6,206.2 516,206.5 516.4,206.1 516.8,205.8 517.2,205.9 517.6,205.9 518,205.6 518.4,205.3 518.8,205.4 519.2,205.5 519.6,205.1 520,205 520.4,205.2 520.8,205 521.2,204.8 521.6,204.8 522,204.7 522.4,204.7 522.8,204.6 523.2,204.7 523.6,204.6 524,204.2 524.4,204.4 524.8,204.4 525.2,204.2 525.6,204.2 526,203.9 526.4,203.8 526.8,204 527.2,203.6 527.6,203.4 528,203.8 528.4,203.5 528.8,203.4 529.2,203.2 529.6,203.2 530,203.2 530.4,203.2 530.8,203.3 531.2,202.8 531.6,203.2 532,202.9 532.4,202.8 532.8,203.1 533.2,202.9 533.6,202.6 534,203.1 534.4,202.6 534.8,202.7 535.2,202.7 535.6,202.8 536,202.4 536.4,202.6 536.8,202.2 537.2,202.4 537.6,202.1 538,202.1 538.4,202.3 538.8,202 539.2,201.9 539.6,202.2 540,201.8 540.4,201.5 540.8,201.7 541.2,201.3 541.6,201.6 542,201.5 542.4,201.2 542.8,201.1 543.2,201.2 543.6,201.1 544,200.8 544.4,201 544.8,200.5 545.2,200.7 545.6,200.6 546,200.5 546.4,200.6 546.8,200.3 547.2,200.4 547.6,200.3 548,200.1 548.4,199.9 548.8,199.9 549.2,200 549.6,199.8 550,199.8 550.4,199.9 550.8,199.8 551.2,199.8 551.6,199.5 552,199.3 552.4,199.5 552.8,199.3 553.2,199.4 553.6,199.1 554,199.2 554.4,199 554.8,198.9 555.2,198.7 555.6,198.6 556,198.5 556.4,198.4 556.8,198.4 557.2,198 557.6,198.3 558,197.9 558.4,197.9 558.8,197.6 559.2,197.5 559.6,197.7 560,197.3 560.4,197 560.8,197 561.2,196.9 561.6,197.2 562,196.8 562.4,196.8 562.8,196.4 563.2,196.5 563.6,196.4 564,196.5 564.4,196 564.8,196.1 565.2,195.9 565.6,195.6 566,195.7 566.4,195.5 566.8,195.1 567.2,195.4 567.3,195.4" fill="none" stroke="#1c3f2c" stroke-width="1.45" stroke-linejoin="round" stroke-linecap="round" />
<line x1="521.5" y1="218.18" x2="521.5" y2="317.6" stroke="#111" stroke-width="1.1" stroke-dasharray="2,1.6"/>
<line x1="521.5" y1="317.6" x2="458.7" y2="336.6" stroke="#111" stroke-width="1.3" stroke-dasharray="3,2"/>
<line x1="459.5" y1="336.3" x2="455.5" y2="337.6" stroke="#222" stroke-width="1.0" />
<path d="M453.3,243.4 453.7,242.7 454.1,244.2 454.5,243.3 454.9,243.5 455.3,243.6 455.7,242.2 456.1,242.8 456.5,242 456.9,241.9 457.3,241.7 457.7,241.6 458.1,242.1 458.5,241.3 458.9,240.9 459.3,240.7 459.7,240.8 460.1,239.9 460.5,240.1 460.9,240.2 461.3,239.8 461.7,240 462.1,239.6 462.5,241.1 462.9,240.5 463.3,239.9 463.7,239.5 464.1,240.8 464.5,239.5 464.9,239.2 465.3,239.3 465.7,239.2 466.1,239.8 466.5,238.8 466.9,240 467.3,238.2 467.7,239.2 468.1,238.1 468.5,239.8 468.9,238.5 469.3,238.7 469.7,239.2 470.1,239.4 470.5,238 470.9,238.4 471.3,237.8 471.7,238.7 472.1,238.5 472.5,238.4 472.9,238.2 473.3,238.3 473.7,238.1 474.1,238.9 474.5,239.4 474.9,237.4 475.3,238.4 475.7,238.2 476.1,238.8 476.5,237.9 476.9,238.4 477.3,237.8 477.7,238.8 478.1,238.5 478.5,238.3 478.9,238.6 479.3,238.3 479.7,237.6 480.1,238.9 480.5,238.8 480.9,238.6 481.3,239.3 481.7,239.5 482.1,238.2 482.5,238.4 482.9,239.9 483.3,239.9 483.7,238.6 484.1,238.4 484.5,238.8 484.9,238.9 485.3,238.4 485.7,239.4 486.1,238.6 486.5,238.7 486.9,240.1 487.3,239.1 487.7,239.4 488.1,239.6 488.5,239.6 488.9,238.8 489.3,238.8 489.7,238.2 490.1,239.6 490.5,238.8 490.9,237.6 491.3,238.1 491.7,238.4 492.1,238.1 492.5,238.8 492.9,238.3 493.3,237 493.7,237.2 494.1,236.3 494.5,237.1 494.9,236.9 495.3,238.2 495.7,236.5 496.1,235.1 496.5,235.8 496.9,236.1 497.3,235.1 497.7,235.2 498.1,235.4 498.5,235.6 498.9,235.2 499.3,234.6 499.7,235.5 500.1,234.6 500.5,234.5 500.9,233.9 501.3,234.2 501.7,234.9 502.1,233.5 502.5,234.3 502.9,234.7 503.3,234 503.7,234.3 504.1,233.4 504.5,234.8 504.9,234.6 505.3,234 505.7,232.8 506.1,233.3 506.5,234.7 506.9,235.4 507.3,234.7 507.7,235.5 508.1,234.6 508.5,234.7 508.9,234.8 509.3,235.1 509.7,234 510.1,235.6 510.5,236.2 510.9,235.1 511,236 511.3,236.5 511.7,237.6 512,238.7 512.1,239.1 512.5,241.3 512.9,244.7 513,245.8 513.3,250.3 513.4,252.2 513.7,261.6 514,303.2 514.1,276.7 514.3,260.8 514.5,253.3 514.6,250.6 514.9,244.7 515,243.1 515.3,239.3 515.5,237.2 515.7,235.4 516,233.1 516.1,232.4 516.5,230 516.9,227.9 517,227.4 517.3,225.2 517.7,224.1 518.1,223 518.5,222.1 518.9,219.4 519.3,218.6 519.7,217.3 520.1,216.3 520.5,215.5 520.9,216.1 521.3,215.3 521.7,217.1 522.1,218.1 522.2,218.4 522.5,219.5 522.9,221.4 523.2,223.2 523.3,223.9 523.7,227 524.1,231.3 524.2,232.7 524.5,237.8 524.6,240 524.9,250 525.2,273.8 525.3,265.9 525.5,250.4 525.7,243.3 525.8,240.8 526.1,235.4 526.2,234.1 526.5,230.8 526.7,229.1 526.9,227.7 527.2,226 527.3,225.5 527.7,223.8 528.1,222.5 528.2,222.2 528.5,221.5 528.9,221 529.3,220.8 529.7,219.3 530.1,219.6 530.5,219 530.9,218.3 531.3,218.3 531.7,218.1 532.1,217.3 532.5,218.4 532.9,216.7 533.3,218.1 533.7,217.9 534.1,217.1 534.5,216.6 534.9,216.8 535.3,217.1 535.7,217.2 536.1,216.8 536.5,217.1 536.9,216.1 537.3,216.5 537.7,215.4 538.1,216.7 538.5,216.3 538.9,215.9 539.3,216.8 539.7,216.4 540.1,214.3 540.5,215.9 540.9,215 541.3,216.4 541.7,217.2 542.1,215.3 542.5,215.6 542.9,215.3 543.3,215.6 543.7,215.7 544.1,216 544.5,214.5 544.9,216 545.3,214.4 545.7,215 546.1,215.5 546.5,215.1 546.9,214 547.3,214.1 547.7,214.2 548.1,214.3 548.5,214.9 548.9,213.4 549.3,214.4 549.7,214.4 550.1,214.2 550.5,214.1 550.9,214.6 551.3,213.9 551.7,214 552.1,213.8 552.5,214.4 552.9,212.1 553.3,213.9 553.7,212.9 554.1,212.7 554.5,212.2 554.9,211.6 555.3,212.4 555.7,212.1 556.1,212.7 556.5,211.4 556.9,213.1 557.3,212.3 557.7,211.9 558.1,211.5 558.5,211.5 558.9,211.6 559.3,212.2 559.7,212.7 560.1,212.9 560.5,212.4 560.9,213.3 561.3,213.2 561.7,214.1 562.1,214.9 562.5,214.1 562.9,213.4 563.3,212.4 563.7,212.4 564.1,212.1 564.5,213.4 564.9,212.4 565.3,212.8 565.7,212.2 566.1,212.5 566.5,213.1 566.9,211.6 567.3,211.6 567.7,211.1 568.1,211.9 568.5,210.6 568.9,210.3 569.3,210 569.7,209.7 570.1,210.7 570.5,211.7 570.9,209.4 571.3,210.4 571.7,209.7 572.1,209.1 572.5,209.7 572.9,209.9 573.3,209.7 573.7,211.5 574.1,209.3 574.5,210.8 574.9,210.9 575.3,210.2 575.7,210.4 576.1,210.6 576.5,209.9 576.9,209.8 577.3,209.7 577.7,207.8 578.1,209.6 578.5,209.8 578.9,208.8 579.3,208.6 579.7,206.8 580.1,207.4 580.5,206.7 580.9,206.6 581.3,207.4 581.7,206.1 582.1,206.3 582.5,205 582.9,205.8 583.3,205.8 583.7,205.1 584.1,204.8 584.5,206.2 584.9,204.1 585.3,204 585.7,203.9 586.1,204.9 586.5,205.2 586.9,204 587.3,203.1 587.7,203.1 588.1,203.8 588.5,202.4 588.9,203.6 589.3,203.3 589.7,202.3 590.1,202.4 590.4,202.3" fill="none" stroke="#720a14" stroke-width="1.3" stroke-linejoin="round" stroke-linecap="round" />
<path d="M453.3,243.4 453.7,242.7 454.1,244.2 454.5,243.3 454.9,243.5 455.3,243.6 455.7,242.2 456.1,242.8 456.5,242 456.9,241.9 457.3,241.7 457.7,241.6 458.1,242.1 458.5,241.3 458.9,240.9 459.3,240.7 459.7,240.8 460.1,239.9 460.5,240.1 460.9,240.2 461.3,239.8 461.7,240 462.1,239.6 462.5,241.1 462.9,240.5 463.3,239.9 463.7,239.5 464.1,240.8 464.5,239.5 464.9,239.2 465.3,239.3 465.7,239.2 466.1,239.8 466.5,238.8 466.9,240 467.3,238.2 467.7,239.2 468.1,238.1 468.5,239.8 468.9,238.5 469.3,238.7 469.7,239.2 470.1,239.4 470.5,238 470.9,238.4 471.3,237.8 471.7,238.7 472.1,238.5 472.5,238.4 472.9,238.2 473.3,238.3 473.7,238.1 474.1,238.9 474.5,239.4 474.9,237.4 475.3,238.4 475.7,238.2 476.1,238.8 476.5,237.9 476.9,238.4 477.3,237.8 477.7,238.8 478.1,238.5 478.5,238.3 478.9,238.6 479.3,238.3 479.7,237.6 480.1,238.9 480.5,238.8 480.9,238.6 481.3,239.3 481.7,239.5 482.1,238.2 482.5,238.4 482.9,239.9 483.3,239.9 483.7,238.6 484.1,238.4 484.5,238.8 484.9,238.9 485.3,238.4 485.7,239.4 486.1,238.6 486.5,238.7 486.9,240.1 487.3,239.1 487.7,239.4 488.1,239.6 488.5,239.6 488.9,238.8 489.3,238.8 489.7,238.2 490.1,239.6 490.5,238.8 490.9,237.6 491.3,238.1 491.7,238.4 492.1,238.1 492.5,238.8 492.9,238.3 493.3,237 493.7,237.2 494.1,236.3 494.5,237.1 494.9,236.9 495.3,238.2 495.7,236.5 496.1,235.1 496.5,235.8 496.9,236.1 497.3,235.1 497.7,235.2 498.1,235.4 498.5,235.6 498.9,235.2 499.3,234.6 499.7,235.5 500.1,234.6 500.5,234.5 500.9,233.9 501.3,234.2 501.7,234.9 502.1,233.5 502.5,234.3 502.9,234.7 503.3,234 503.7,234.3 504.1,233.4 504.5,234.8 504.9,234.6 505.3,234 505.7,232.8 506.1,233.3 506.5,234.7 506.9,235.4 507.3,234.7 507.7,235.5 508.1,234.6 508.5,234.7 508.9,234.8 509.3,235.1 509.7,234 510.1,235.6 510.5,236.2 510.9,235.1" fill="none" stroke="#720a14" stroke-width="2.0" stroke-linejoin="round" stroke-linecap="round" />
<path d="M528.5,221.5 528.9,221 529.3,220.8 529.7,219.3 530.1,219.6 530.5,219 530.9,218.3 531.3,218.3 531.7,218.1 532.1,217.3 532.5,218.4 532.9,216.7 533.3,218.1 533.7,217.9 534.1,217.1 534.5,216.6 534.9,216.8 535.3,217.1 535.7,217.2 536.1,216.8 536.5,217.1 536.9,216.1 537.3,216.5 537.7,215.4 538.1,216.7 538.5,216.3 538.9,215.9 539.3,216.8 539.7,216.4 540.1,214.3 540.5,215.9 540.9,215 541.3,216.4 541.7,217.2 542.1,215.3 542.5,215.6 542.9,215.3 543.3,215.6 543.7,215.7 544.1,216 544.5,214.5 544.9,216 545.3,214.4 545.7,215 546.1,215.5 546.5,215.1 546.9,214 547.3,214.1 547.7,214.2 548.1,214.3 548.5,214.9 548.9,213.4 549.3,214.4 549.7,214.4 550.1,214.2 550.5,214.1 550.9,214.6 551.3,213.9 551.7,214 552.1,213.8 552.5,214.4 552.9,212.1 553.3,213.9 553.7,212.9 554.1,212.7 554.5,212.2 554.9,211.6 555.3,212.4 555.7,212.1 556.1,212.7 556.5,211.4 556.9,213.1 557.3,212.3 557.7,211.9 558.1,211.5 558.5,211.5 558.9,211.6 559.3,212.2 559.7,212.7 560.1,212.9 560.5,212.4 560.9,213.3 561.3,213.2 561.7,214.1 562.1,214.9 562.5,214.1 562.9,213.4 563.3,212.4 563.7,212.4 564.1,212.1 564.5,213.4 564.9,212.4 565.3,212.8 565.7,212.2 566.1,212.5 566.5,213.1 566.9,211.6 567.3,211.6 567.7,211.1 568.1,211.9 568.5,210.6 568.9,210.3 569.3,210 569.7,209.7 570.1,210.7 570.5,211.7 570.9,209.4 571.3,210.4 571.7,209.7 572.1,209.1 572.5,209.7 572.9,209.9 573.3,209.7 573.7,211.5 574.1,209.3 574.5,210.8 574.9,210.9 575.3,210.2 575.7,210.4 576.1,210.6 576.5,209.9 576.9,209.8 577.3,209.7 577.7,207.8 578.1,209.6 578.5,209.8 578.9,208.8 579.3,208.6 579.7,206.8 580.1,207.4 580.5,206.7 580.9,206.6 581.3,207.4 581.7,206.1 582.1,206.3 582.5,205 582.9,205.8 583.3,205.8 583.7,205.1 584.1,204.8 584.5,206.2 584.9,204.1 585.3,204 585.7,203.9 586.1,204.9 586.5,205.2 586.9,204 587.3,203.1 587.7,203.1 588.1,203.8 588.5,202.4 588.9,203.6 589.3,203.3 589.7,202.3 590.1,202.4 590.4,202.3" fill="none" stroke="#720a14" stroke-width="2.0" stroke-linejoin="round" stroke-linecap="round" />
<line x1="547.4" y1="233.56" x2="547.4" y2="323.9" stroke="#111" stroke-width="1.1" stroke-dasharray="2,1.6"/>
<line x1="547.4" y1="323.9" x2="480" y2="345.5" stroke="#111" stroke-width="1.3" stroke-dasharray="3,2"/>
<line x1="480.8" y1="345.2" x2="476.8" y2="346.5" stroke="#222" stroke-width="1.0" />
<path d="M483.6,258.6 484,257.1 484.4,258.2 484.8,257.2 485.2,256.8 485.6,257.2 486,256.9 486.4,256.3 486.8,255.9 487.2,256.1 487.6,257.3 488,257.4 488.4,256.6 488.8,256.8 489.2,255.7 489.6,255.8 490,255.9 490.4,255 490.8,254.9 491.2,255.4 491.6,255 492,254.5 492.4,255.2 492.8,254.7 493.2,255.3 493.6,254.6 494,254.3 494.4,254.4 494.8,254.1 495.2,253.7 495.6,253.7 496,254.2 496.4,254 496.8,254.3 497.2,252.5 497.6,253.1 498,253 498.4,253.3 498.8,252.9 499.2,252.9 499.6,253.6 500,253.2 500.4,252.5 500.8,253.8 501.2,253.6 501.6,252.7 502,253.5 502.4,252.6 502.8,253.6 503.2,252.8 503.6,252.5 504,252.7 504.4,252.5 504.8,253 505.2,252.9 505.6,252.8 506,252.5 506.4,250.8 506.8,252.8 507.2,251.7 507.6,252.8 508,253.3 508.4,252.8 508.8,252.4 509.2,252.5 509.6,252.5 510,252.3 510.4,252.2 510.8,252 511.2,253.2 511.6,252.5 512,253 512.4,252.3 512.8,252.4 513.2,252.3 513.6,252.6 514,252.8 514.4,252.4 514.8,251.9 515.2,251.8 515.6,253.2 516,252 516.4,251.9 516.8,252.8 517.2,252.5 517.6,252.1 518,251.5 518.4,253 518.8,251.8 519.2,251.8 519.6,251.3 520,250.5 520.4,250.5 520.8,251.4 521.2,251.3 521.6,250.9 522,250.3 522.4,250 522.8,250.5 523.2,249.8 523.6,251.1 524,251.1 524.4,251.9 524.8,250.8 525.2,249.9 525.6,249.6 526,248.1 526.4,249.6 526.8,249.8 527.2,250.3 527.6,250 528,249.9 528.4,249.6 528.8,249.8 529.2,250.1 529.6,248.7 530,248.9 530.4,248.3 530.8,249.9 531.2,249.6 531.6,249.2 532,248.1 532.4,248.8 532.8,248.5 533.2,248.6 533.6,248.4 534,248.9 534.4,248.4 534.8,249.2 535.2,248.9 535.6,248.5 536,248.5 536.4,248.3 536.8,249.1 537.2,248.6 537.6,249.2 537.8,249.3 538,249.5 538.4,250.3 538.8,251.4 539.2,253.2 539.3,253.8 539.6,256 539.8,257.9 540,260.5 540.2,264.1 540.4,269.4 540.5,273.3 540.8,288 541.1,272.2 541.2,268 541.4,262 541.6,257.7 541.8,254.4 542,251.7 542.3,248.5 542.4,247.5 542.8,244.3 543.2,241.6 543.6,239.3 543.8,238.3 544,236.9 544.4,235.9 544.8,235.4 545.2,232.6 545.6,232 546,231.3 546.4,229.3 546.8,230.8 547.2,230.7 547.6,232.4 548,232.4 548.4,233.1 548.8,234.6 549.2,236.1 549.5,237.1 549.6,237.5 550,239.2 550.4,241.2 550.5,241.8 550.8,243.8 551,245.3 551.2,247.2 551.5,250.7 551.6,252.1 551.9,257.7 552,260.3 552.2,267.6 552.4,283.3 552.5,322.8 552.8,267.9 553.1,258.4 553.2,256.3 553.5,251.7 553.6,250.5 554,247 554.4,244.6 554.5,244.1 554.8,242.8 555.2,241.6 555.5,240.8 555.6,240.6 556,240.7 556.4,240.2 556.8,238 557.2,238.8 557.6,238.1 558,237.8 558.4,237.8 558.8,236.6 559.2,236.5 559.6,236.3 560,236.4 560.4,236.7 560.8,235.9 561.2,236.2 561.6,237.1 562,236.7 562.4,237 562.8,235.7 563.2,236.3 563.6,236.5 564,236.8 564.4,236.5 564.8,237.3 565.2,236.8 565.6,236.9 566,236.9 566.4,237.3 566.8,236.6 567.2,237.5 567.6,237.2 568,237 568.4,236.9 568.8,237 569.2,237.1 569.6,236.9 570,236.4 570.4,236.5 570.8,235.9 571.2,236.4 571.6,235.5 572,234.2 572.4,235.9 572.8,235.1 573.2,234.2 573.6,234.5 574,234 574.4,235.4 574.8,234.4 575.2,233.1 575.6,234.1 576,233.4 576.4,234.6 576.8,232.8 577.2,232 577.6,233.1 578,232.7 578.4,232.5 578.8,231.4 579.2,232.7 579.6,233.2 580,231.1 580.4,232.6 580.8,231.5 581.2,233 581.6,231.8 582,231.4 582.4,232.1 582.8,231.7 583.2,231.1 583.6,231.8 584,231.1 584.4,230.4 584.8,232.5 585.2,231.2 585.6,231 586,231.5 586.4,230.4 586.8,230.5 587.2,231 587.6,231 588,231.3 588.4,231.8 588.8,230.9 589.2,231.5 589.6,231.5 590,230.6 590.4,231.3 590.8,230.6 591.2,231.7 591.6,231.3 592,231.1 592.4,230.3 592.8,231.1 593.2,230.6 593.6,231.4 594,230.9 594.4,230.5 594.8,231.5 595.2,231.3 595.6,230.4 596,231.2 596.4,230.3 596.8,230.1 597.2,230.2 597.6,229.6 598,229.6 598.4,229.6 598.8,230.4 599.2,230.2 599.6,229.1 600,230 600.4,228.9 600.8,229 601.2,229.1 601.6,228.6 602,229.7 602.4,228.3 602.8,227.4 603.2,228.7 603.6,227.6 604,227.5 604.4,225.9 604.8,227.9 605.2,227.7 605.6,227.6 606,227.5 606.4,227.8 606.8,226.7 607.2,227.1 607.6,226 608,226.1 608.4,226.7 608.8,226.2 609.2,225.2 609.6,226 610,225.5 610.4,225 610.8,225.6 611.2,225 611.6,224.2 612,224.3 612.4,225.8 612.8,223.8 613.2,224.6 613.6,224.7 614,224.6 614.4,223.4 614.8,223.8 615.2,223.9 615.6,224.1 616,223.2 616.4,222.8 616.8,223.8 617.2,223.8 617.6,223.2 618,222.6 618.4,223 618.8,222.7 619.2,222.9 619.6,221.7 619.8,222.3" fill="none" stroke="#0e5650" stroke-width="1.3" stroke-linejoin="round" stroke-linecap="round" />
<path d="M483.6,258.6 484,257.1 484.4,258.2 484.8,257.2 485.2,256.8 485.6,257.2 486,256.9 486.4,256.3 486.8,255.9 487.2,256.1 487.6,257.3 488,257.4 488.4,256.6 488.8,256.8 489.2,255.7 489.6,255.8 490,255.9 490.4,255 490.8,254.9 491.2,255.4 491.6,255 492,254.5 492.4,255.2 492.8,254.7 493.2,255.3 493.6,254.6 494,254.3 494.4,254.4 494.8,254.1 495.2,253.7 495.6,253.7 496,254.2 496.4,254 496.8,254.3 497.2,252.5 497.6,253.1 498,253 498.4,253.3 498.8,252.9 499.2,252.9 499.6,253.6 500,253.2 500.4,252.5 500.8,253.8 501.2,253.6 501.6,252.7 502,253.5 502.4,252.6 502.8,253.6 503.2,252.8 503.6,252.5 504,252.7 504.4,252.5 504.8,253 505.2,252.9 505.6,252.8 506,252.5 506.4,250.8 506.8,252.8 507.2,251.7 507.6,252.8 508,253.3 508.4,252.8 508.8,252.4 509.2,252.5 509.6,252.5 510,252.3 510.4,252.2 510.8,252 511.2,253.2 511.6,252.5 512,253 512.4,252.3 512.8,252.4 513.2,252.3 513.6,252.6 514,252.8 514.4,252.4 514.8,251.9 515.2,251.8 515.6,253.2 516,252 516.4,251.9 516.8,252.8 517.2,252.5 517.6,252.1 518,251.5 518.4,253 518.8,251.8 519.2,251.8 519.6,251.3 520,250.5 520.4,250.5 520.8,251.4 521.2,251.3 521.6,250.9 522,250.3 522.4,250 522.8,250.5 523.2,249.8 523.6,251.1 524,251.1 524.4,251.9 524.8,250.8 525.2,249.9 525.6,249.6 526,248.1 526.4,249.6 526.8,249.8 527.2,250.3 527.6,250 528,249.9 528.4,249.6 528.8,249.8 529.2,250.1 529.6,248.7 530,248.9 530.4,248.3 530.8,249.9 531.2,249.6 531.6,249.2 532,248.1 532.4,248.8 532.8,248.5 533.2,248.6 533.6,248.4 534,248.9 534.4,248.4 534.8,249.2 535.2,248.9 535.6,248.5 536,248.5 536.4,248.3 536.8,249.1 537.2,248.6 537.6,249.2" fill="none" stroke="#0e5650" stroke-width="2.0" stroke-linejoin="round" stroke-linecap="round" />
<path d="M555.6,240.6 556,240.7 556.4,240.2 556.8,238 557.2,238.8 557.6,238.1 558,237.8 558.4,237.8 558.8,236.6 559.2,236.5 559.6,236.3 560,236.4 560.4,236.7 560.8,235.9 561.2,236.2 561.6,237.1 562,236.7 562.4,237 562.8,235.7 563.2,236.3 563.6,236.5 564,236.8 564.4,236.5 564.8,237.3 565.2,236.8 565.6,236.9 566,236.9 566.4,237.3 566.8,236.6 567.2,237.5 567.6,237.2 568,237 568.4,236.9 568.8,237 569.2,237.1 569.6,236.9 570,236.4 570.4,236.5 570.8,235.9 571.2,236.4 571.6,235.5 572,234.2 572.4,235.9 572.8,235.1 573.2,234.2 573.6,234.5 574,234 574.4,235.4 574.8,234.4 575.2,233.1 575.6,234.1 576,233.4 576.4,234.6 576.8,232.8 577.2,232 577.6,233.1 578,232.7 578.4,232.5 578.8,231.4 579.2,232.7 579.6,233.2 580,231.1 580.4,232.6 580.8,231.5 581.2,233 581.6,231.8 582,231.4 582.4,232.1 582.8,231.7 583.2,231.1 583.6,231.8 584,231.1 584.4,230.4 584.8,232.5 585.2,231.2 585.6,231 586,231.5 586.4,230.4 586.8,230.5 587.2,231 587.6,231 588,231.3 588.4,231.8 588.8,230.9 589.2,231.5 589.6,231.5 590,230.6 590.4,231.3 590.8,230.6 591.2,231.7 591.6,231.3 592,231.1 592.4,230.3 592.8,231.1 593.2,230.6 593.6,231.4 594,230.9 594.4,230.5 594.8,231.5 595.2,231.3 595.6,230.4 596,231.2 596.4,230.3 596.8,230.1 597.2,230.2 597.6,229.6 598,229.6 598.4,229.6 598.8,230.4 599.2,230.2 599.6,229.1 600,230 600.4,228.9 600.8,229 601.2,229.1 601.6,228.6 602,229.7 602.4,228.3 602.8,227.4 603.2,228.7 603.6,227.6 604,227.5 604.4,225.9 604.8,227.9 605.2,227.7 605.6,227.6 606,227.5 606.4,227.8 606.8,226.7 607.2,227.1 607.6,226 608,226.1 608.4,226.7 608.8,226.2 609.2,225.2 609.6,226 610,225.5 610.4,225 610.8,225.6 611.2,225 611.6,224.2 612,224.3 612.4,225.8 612.8,223.8 613.2,224.6 613.6,224.7 614,224.6 614.4,223.4 614.8,223.8 615.2,223.9 615.6,224.1 616,223.2 616.4,222.8 616.8,223.8 617.2,223.8 617.6,223.2 618,222.6 618.4,223 618.8,222.7 619.2,222.9 619.6,221.7 619.8,222.3" fill="none" stroke="#0e5650" stroke-width="2.0" stroke-linejoin="round" stroke-linecap="round" />
<line x1="571.6" y1="246.22" x2="571.6" y2="333.2" stroke="#111" stroke-width="1.1" stroke-dasharray="2,1.6"/>
<line x1="571.6" y1="333.2" x2="502.2" y2="354.9" stroke="#111" stroke-width="1.3" stroke-dasharray="3,2"/>
<line x1="503" y1="354.6" x2="499" y2="355.9" stroke="#222" stroke-width="1.0" />
<path d="M503.1,272.2 503.5,271.3 503.9,272.3 504.3,272 504.7,271.5 505.1,272 505.5,270.4 505.9,271.4 506.3,271.7 506.7,271.4 507.1,271.9 507.5,270 507.9,269.6 508.3,270.9 508.7,270.9 509.1,272.1 509.5,270.8 509.9,269.5 510.3,270.7 510.7,269.2 511.1,268.6 511.5,271.7 511.9,269.8 512.3,270 512.7,269.7 513.1,270.6 513.5,269.2 513.9,269.9 514.3,267.9 514.7,267.5 515.1,269.6 515.5,269.5 515.9,268.6 516.3,268.2 516.7,268 517.1,267.2 517.5,268.8 517.9,267.9 518.3,267.7 518.7,267.4 519.1,267.8 519.5,267.2 519.9,267.2 520.3,265.5 520.7,266.7 521.1,267.9 521.5,265.6 521.9,265.7 522.3,266.4 522.7,266.3 523.1,265.9 523.5,263.9 523.9,265.4 524.3,263.9 524.7,264.1 525.1,265 525.5,264.2 525.9,264.9 526.3,266.6 526.7,264.5 527.1,264.3 527.5,262.9 527.9,262.9 528.3,262.4 528.7,262.7 529.1,262.1 529.5,262.3 529.9,262.5 530.3,261.9 530.7,261.7 531.1,261.8 531.5,263.3 531.9,263 532.3,263.8 532.7,263.9 533.1,262.8 533.5,263.7 533.9,262.1 534.3,265.1 534.7,264.3 535.1,263.2 535.5,262.5 535.9,263.8 536.3,262 536.7,262.9 537.1,264.2 537.5,263.7 537.9,263.3 538.3,264.5 538.7,263 539.1,263.9 539.5,263.1 539.9,262.6 540.3,263.5 540.7,262.1 541.1,264.3 541.5,262.1 541.9,264 542.3,261.4 542.7,262.5 543.1,260.9 543.5,260.6 543.9,261.6 544.3,261.9 544.7,260.1 545.1,261.9 545.5,260.2 545.9,260.7 546.3,260.8 546.7,260.7 547.1,258.7 547.5,261.2 547.9,260.2 548.3,259.2 548.7,258.6 549.1,257.8 549.5,257.9 549.9,259.3 550.3,258.4 550.7,257.6 551.1,257.9 551.5,259.5 551.9,257.9 552.3,257.6 552.7,259.1 553.1,258.4 553.5,258 553.9,257.4 554.3,256.6 554.7,256.8 555.1,257.3 555.5,257.5 555.9,257.9 556.3,258 556.7,257.7 557.1,257.6 557.5,256.6 557.9,255.6 558.3,256.9 558.7,256.5 559.1,256.7 559.5,257 559.9,256.2 560.3,256.4 560.7,257.4 561.1,257.8 561.5,257.5 561.9,258.8 562.3,258.5 562.7,258.2 562.8,259.1 563.1,259.5 563.5,260.3 563.8,261.2 563.9,261.5 564.3,263.4 564.7,266.5 564.8,267.5 565.1,271.7 565.2,273.7 565.5,282.9 565.8,305 565.9,298 566.1,282.1 566.3,274.7 566.4,272.1 566.7,266.3 566.8,264.9 567.1,261.3 567.3,259.5 567.5,257.9 567.8,255.8 567.9,255.2 568.3,253.1 568.7,251.3 568.8,250.9 569.1,249.5 569.5,247 569.9,246.4 570.3,246.7 570.7,244.5 571.1,243.5 571.5,244.3 571.9,244.1 572.3,244.1 572.7,242.9 573.1,244 573.5,245.6 573.9,245 574.3,245.9 574.7,248.2 575.1,249.9 575.5,248.9 575.9,251.1 576.3,252.5 576.7,254.3 576.9,255.3 577.1,256.5 577.4,258.6 577.5,259.4 577.9,263.6 578.3,270.5 578.6,280.3 578.7,286.1 578.9,322.8 579.1,286.4 579.2,280.7 579.5,271.3 579.9,264.9 580.3,261.2 580.4,260.5 580.7,258.8 580.9,258 581.1,257.2 581.5,256.1 581.9,255.3 582.3,253.8 582.7,254.2 583.1,253.7 583.5,254.5 583.9,252.9 584.3,254 584.7,253.2 585.1,252.8 585.5,251.1 585.9,251.5 586.3,253 586.7,253.5 587.1,252.4 587.5,252.7 587.9,251.7 588.3,251.6 588.7,251.3 589.1,252.5 589.5,251.9 589.9,251.3 590.3,251.2 590.7,251.8 591.1,251.5 591.5,250.4 591.9,252.4 592.3,251.1 592.7,250.8 593.1,251.9 593.5,251.4 593.9,250.4 594.3,250.8 594.7,249.4 595.1,249.6 595.5,248.2 595.9,250.9 596.3,248.3 596.7,250.2 597.1,248.9 597.5,248.7 597.9,249.2 598.3,249.5 598.7,249.6 599.1,250.4 599.5,249.2 599.9,249.5 600.3,248.2 600.7,249.1 601.1,248.6 601.5,248 601.9,248.2 602.3,248.2 602.7,248.3 603.1,248.5 603.5,247.7 603.9,247.5 604.3,248.7 604.7,246.7 605.1,247.5 605.5,249.2 605.9,245.7 606.3,247.3 606.7,248.4 607.1,246.5 607.5,249.9 607.9,245.7 608.3,248.9 608.7,248.9 609.1,248.4 609.5,247.4 609.9,247.8 610.3,246.8 610.7,248.1 611.1,246.6 611.5,247.2 611.9,248.2 612.3,246.4 612.7,247 613.1,247.4 613.5,246.2 613.9,248.1 614.3,247.4 614.7,245.9 615.1,247 615.5,246.4 615.9,246.4 616.3,246.8 616.7,246.1 617.1,247.4 617.5,245.9 617.9,247.2 618.3,246.3 618.7,246.9 619.1,245.7 619.5,245.6 619.9,245 620.3,246.3 620.7,246.5 621.1,247.4 621.5,246.6 621.9,245.6 622.3,244.9 622.7,245.1 623.1,244.5 623.5,245.4 623.9,244.7 624.3,243 624.7,242.9 625.1,244.2 625.5,243.1 625.9,242.4 626.3,243.2 626.7,241.7 627.1,241.4 627.5,241 627.9,239.5 628.3,241.4 628.7,239.4 629.1,239.6 629.5,239.2 629.9,240 630.3,239.1 630.7,238.8 631.1,237.2 631.5,238.1 631.9,236.7 632.3,237.8 632.7,237.5 633.1,236.9 633.5,238.3 633.9,236.7 634.3,236.5 634.7,235.8 635.1,235.2 635.5,235.8 635.9,235.6 636.3,233.4 636.7,234.9 637.1,234.2 637.5,234.2 637.9,233.5 638.3,231.8 638.7,231.6 639.1,233.7 639.3,232.3" fill="none" stroke="#5e0f5e" stroke-width="1.3" stroke-linejoin="round" stroke-linecap="round" />
<path d="M503.1,272.2 503.5,271.3 503.9,272.3 504.3,272 504.7,271.5 505.1,272 505.5,270.4 505.9,271.4 506.3,271.7 506.7,271.4 507.1,271.9 507.5,270 507.9,269.6 508.3,270.9 508.7,270.9 509.1,272.1 509.5,270.8 509.9,269.5 510.3,270.7 510.7,269.2 511.1,268.6 511.5,271.7 511.9,269.8 512.3,270 512.7,269.7 513.1,270.6 513.5,269.2 513.9,269.9 514.3,267.9 514.7,267.5 515.1,269.6 515.5,269.5 515.9,268.6 516.3,268.2 516.7,268 517.1,267.2 517.5,268.8 517.9,267.9 518.3,267.7 518.7,267.4 519.1,267.8 519.5,267.2 519.9,267.2 520.3,265.5 520.7,266.7 521.1,267.9 521.5,265.6 521.9,265.7 522.3,266.4 522.7,266.3 523.1,265.9 523.5,263.9 523.9,265.4 524.3,263.9 524.7,264.1 525.1,265 525.5,264.2 525.9,264.9 526.3,266.6 526.7,264.5 527.1,264.3 527.5,262.9 527.9,262.9 528.3,262.4 528.7,262.7 529.1,262.1 529.5,262.3 529.9,262.5 530.3,261.9 530.7,261.7 531.1,261.8 531.5,263.3 531.9,263 532.3,263.8 532.7,263.9 533.1,262.8 533.5,263.7 533.9,262.1 534.3,265.1 534.7,264.3 535.1,263.2 535.5,262.5 535.9,263.8 536.3,262 536.7,262.9 537.1,264.2 537.5,263.7 537.9,263.3 538.3,264.5 538.7,263 539.1,263.9 539.5,263.1 539.9,262.6 540.3,263.5 540.7,262.1 541.1,264.3 541.5,262.1 541.9,264 542.3,261.4 542.7,262.5 543.1,260.9 543.5,260.6 543.9,261.6 544.3,261.9 544.7,260.1 545.1,261.9 545.5,260.2 545.9,260.7 546.3,260.8 546.7,260.7 547.1,258.7 547.5,261.2 547.9,260.2 548.3,259.2 548.7,258.6 549.1,257.8 549.5,257.9 549.9,259.3 550.3,258.4 550.7,257.6 551.1,257.9 551.5,259.5 551.9,257.9 552.3,257.6 552.7,259.1 553.1,258.4 553.5,258 553.9,257.4 554.3,256.6 554.7,256.8 555.1,257.3 555.5,257.5 555.9,257.9 556.3,258 556.7,257.7 557.1,257.6 557.5,256.6 557.9,255.6 558.3,256.9 558.7,256.5 559.1,256.7 559.5,257 559.9,256.2 560.3,256.4 560.7,257.4 561.1,257.8 561.5,257.5 561.9,258.8 562.3,258.5 562.7,258.2" fill="none" stroke="#5e0f5e" stroke-width="2.0" stroke-linejoin="round" stroke-linecap="round" />
<path d="M582.3,253.8 582.7,254.2 583.1,253.7 583.5,254.5 583.9,252.9 584.3,254 584.7,253.2 585.1,252.8 585.5,251.1 585.9,251.5 586.3,253 586.7,253.5 587.1,252.4 587.5,252.7 587.9,251.7 588.3,251.6 588.7,251.3 589.1,252.5 589.5,251.9 589.9,251.3 590.3,251.2 590.7,251.8 591.1,251.5 591.5,250.4 591.9,252.4 592.3,251.1 592.7,250.8 593.1,251.9 593.5,251.4 593.9,250.4 594.3,250.8 594.7,249.4 595.1,249.6 595.5,248.2 595.9,250.9 596.3,248.3 596.7,250.2 597.1,248.9 597.5,248.7 597.9,249.2 598.3,249.5 598.7,249.6 599.1,250.4 599.5,249.2 599.9,249.5 600.3,248.2 600.7,249.1 601.1,248.6 601.5,248 601.9,248.2 602.3,248.2 602.7,248.3 603.1,248.5 603.5,247.7 603.9,247.5 604.3,248.7 604.7,246.7 605.1,247.5 605.5,249.2 605.9,245.7 606.3,247.3 606.7,248.4 607.1,246.5 607.5,249.9 607.9,245.7 608.3,248.9 608.7,248.9 609.1,248.4 609.5,247.4 609.9,247.8 610.3,246.8 610.7,248.1 611.1,246.6 611.5,247.2 611.9,248.2 612.3,246.4 612.7,247 613.1,247.4 613.5,246.2 613.9,248.1 614.3,247.4 614.7,245.9 615.1,247 615.5,246.4 615.9,246.4 616.3,246.8 616.7,246.1 617.1,247.4 617.5,245.9 617.9,247.2 618.3,246.3 618.7,246.9 619.1,245.7 619.5,245.6 619.9,245 620.3,246.3 620.7,246.5 621.1,247.4 621.5,246.6 621.9,245.6 622.3,244.9 622.7,245.1 623.1,244.5 623.5,245.4 623.9,244.7 624.3,243 624.7,242.9 625.1,244.2 625.5,243.1 625.9,242.4 626.3,243.2 626.7,241.7 627.1,241.4 627.5,241 627.9,239.5 628.3,241.4 628.7,239.4 629.1,239.6 629.5,239.2 629.9,240 630.3,239.1 630.7,238.8 631.1,237.2 631.5,238.1 631.9,236.7 632.3,237.8 632.7,237.5 633.1,236.9 633.5,238.3 633.9,236.7 634.3,236.5 634.7,235.8 635.1,235.2 635.5,235.8 635.9,235.6 636.3,233.4 636.7,234.9 637.1,234.2 637.5,234.2 637.9,233.5 638.3,231.8 638.7,231.6 639.1,233.7 639.3,232.3" fill="none" stroke="#5e0f5e" stroke-width="2.0" stroke-linejoin="round" stroke-linecap="round" />
<line x1="598.5" y1="265.04" x2="598.5" y2="343.6" stroke="#111" stroke-width="1.1" stroke-dasharray="2,1.6"/>
<line x1="598.5" y1="343.6" x2="520" y2="362.8" stroke="#111" stroke-width="1.3" stroke-dasharray="3,2"/>
<line x1="520.8" y1="362.5" x2="516.8" y2="363.8" stroke="#222" stroke-width="1.0" />
<path d="M528,282.3 528.4,282.7 528.8,282.5 529.2,282 529.6,281.9 530,282 530.4,282.4 530.8,282.2 531.2,282.1 531.6,282.2 532,282.2 532.4,281.4 532.8,281.8 533.2,281.6 533.6,281.3 534,281.2 534.4,281.1 534.8,280.8 535.2,280.3 535.6,280.3 536,280.7 536.4,279.7 536.8,279.3 537.2,279.5 537.6,279.3 538,279.1 538.4,278.4 538.8,278.7 539.2,278 539.6,277.7 540,277.6 540.4,277.5 540.8,277.4 541.2,277.2 541.6,276.8 542,276.8 542.4,276.3 542.8,276.4 543.2,275.6 543.6,275.4 544,275.8 544.4,275.1 544.8,275.2 545.2,275.1 545.6,274.8 546,274.7 546.4,275 546.8,273.8 547.2,274.5 547.6,274.7 548,274 548.4,273.8 548.8,273.8 549.2,273.9 549.6,273 550,273.1 550.4,272.9 550.8,272.9 551.2,272.6 551.6,272.6 552,272.1 552.4,272.1 552.8,271.7 553.2,271.6 553.6,271.5 554,271.4 554.4,270.9 554.8,271.5 555.2,271.1 555.6,270.8 556,271.5 556.4,271 556.8,271.4 557.2,271.3 557.6,271.4 558,271.4 558.4,271.2 558.8,271.4 559.2,271.9 559.6,270.9 560,271.5 560.4,271.6 560.8,271.2 561.2,271.2 561.6,272.1 562,271.5 562.4,272.1 562.8,271.8 563.2,271.7 563.6,271.8 564,271.9 564.4,272 564.8,271.9 565.2,271.8 565.6,271.9 566,272.2 566.4,272.1 566.8,271.6 567.2,271.8 567.6,272 568,271.8 568.4,271.9 568.8,271.8 569.2,271.9 569.6,272 570,272.1 570.4,271.7 570.8,272.2 571.2,271.6 571.6,272.3 572,271.7 572.4,271.5 572.8,271.2 573.2,270.5 573.6,271.1 574,271.1 574.4,271.5 574.8,270.6 575.2,271.3 575.6,270.7 576,270.9 576.4,270 576.8,270.6 577.2,270.4 577.6,270.5 578,270.3 578.4,269.9 578.8,270.4 579.2,270.2 579.6,270.1 580,270.1 580.4,270.1 580.8,269.7 581.2,269.3 581.6,269.2 582,269.8 582.4,269.6 582.8,269.4 583.2,269.2 583.6,269.2 584,269.1 584.4,269 584.8,268.8 585.2,269.5 585.6,269 586,268.7 586.4,268.5 586.8,268.6 587.2,268.9 587.6,268.9 588,268.7 588.4,268.8 588.8,268.7 589.2,268.7 589.6,269.4 590,269.5 590.4,270.4 590.6,270 590.8,270.3 591.2,271.2 591.6,272.4 592,274.3 592.1,274.9 592.4,277.1 592.6,279.2 592.8,281.8 593,285.5 593.2,290.9 593.3,294.9 593.6,307.3 593.9,294.5 594,290.4 594.2,284.6 594.4,280.7 594.6,277.7 594.8,275.4 595.1,272.7 595.2,271.9 595.6,269.5 596,267.7 596.4,266.2 596.6,265.7 596.8,265.3 597.2,264.6 597.6,263.9 598,263.1 598.4,263 598.8,263.2 599.2,263.2 599.6,264 600,264.9 600.2,265 600.4,265.5 600.8,266.7 601.2,268.3 601.6,270.5 601.7,271.2 602,273.7 602.2,275.9 602.4,278.7 602.6,282.5 602.8,288.1 602.9,292.2 603.2,317 603.5,292.2 603.6,288.2 603.8,282.6 604,278.9 604.2,276.1 604.4,273.9 604.7,271.5 604.8,270.8 605.2,268.7 605.6,267.2 606,266.2 606.2,265.8 606.4,265.5 606.8,265.4 607.2,264.2 607.6,263.8 608,263.3 608.4,262.8 608.8,263.2 609.2,262.7 609.6,262.6 610,262.7 610.4,262.7 610.8,261.7 611.2,262 611.6,261.8 612,261.5 612.4,261.4 612.8,261.1 613.2,261.4 613.6,261 614,260.8 614.4,260.9 614.8,260.7 615.2,260.5 615.6,260.3 616,260.5 616.4,260.1 616.8,259.8 617.2,259.5 617.6,259.5 618,259.2 618.4,259.4 618.8,259.3 619.2,258.7 619.6,259.1 620,259.1 620.4,258.9 620.8,258.5 621.2,259 621.6,258.4 622,258.1 622.4,258.1 622.8,258.2 623.2,258.4 623.6,258.3 624,258 624.4,257.5 624.8,257.6 625.2,257.4 625.6,257.5 626,257 626.4,257.3 626.8,257.4 627.2,257.1 627.6,257.1 628,256.7 628.4,256.4 628.8,256.5 629.2,256.9 629.6,256.8 630,256.3 630.4,256.6 630.8,256.1 631.2,256.5 631.6,256.1 632,255.8 632.4,256 632.8,255.5 633.2,255.3 633.6,255.1 634,255.4 634.4,255.3 634.8,255.2 635.2,255 635.6,255.4 636,254.8 636.4,254.7 636.8,255.1 637.2,255 637.6,254.7 638,254.1 638.4,254.3 638.8,254.5 639.2,254.3 639.6,254.6 640,253.8 640.4,254.2 640.8,253.8 641.2,254.2 641.6,253.8 642,254 642.4,253.5 642.8,253.2 643.2,253.2 643.6,253.2 644,253.1 644.4,253.5 644.8,253.5 645.2,253.1 645.6,252.7 646,252.9 646.4,252.7 646.8,253.1 647.2,252.7 647.6,252.7 648,252.4 648.4,251.9 648.8,252.2 649.2,252 649.6,252.3 650,252.1 650.4,251.8 650.8,251.9 651.2,252.3 651.6,251.5 652,251.5 652.4,251.6 652.8,251.4 653.2,251.4 653.6,251.5 654,251.7 654.4,250.8 654.8,251.1 655.2,251.1 655.6,251 656,250.9 656.4,250.7 656.8,251 657.2,250.6 657.6,250.6 658,250.5 658.4,250.5 658.8,250.3 659,250.6" fill="none" stroke="#4e4e22" stroke-width="1.3" stroke-linejoin="round" stroke-linecap="round" />
<path d="M528,282.3 528.4,282.7 528.8,282.5 529.2,282 529.6,281.9 530,282 530.4,282.4 530.8,282.2 531.2,282.1 531.6,282.2 532,282.2 532.4,281.4 532.8,281.8 533.2,281.6 533.6,281.3 534,281.2 534.4,281.1 534.8,280.8 535.2,280.3 535.6,280.3 536,280.7 536.4,279.7 536.8,279.3 537.2,279.5 537.6,279.3 538,279.1 538.4,278.4 538.8,278.7 539.2,278 539.6,277.7 540,277.6 540.4,277.5 540.8,277.4 541.2,277.2 541.6,276.8 542,276.8 542.4,276.3 542.8,276.4 543.2,275.6 543.6,275.4 544,275.8 544.4,275.1 544.8,275.2 545.2,275.1 545.6,274.8 546,274.7 546.4,275 546.8,273.8 547.2,274.5 547.6,274.7 548,274 548.4,273.8 548.8,273.8 549.2,273.9 549.6,273 550,273.1 550.4,272.9 550.8,272.9 551.2,272.6 551.6,272.6 552,272.1 552.4,272.1 552.8,271.7 553.2,271.6 553.6,271.5 554,271.4 554.4,270.9 554.8,271.5 555.2,271.1 555.6,270.8 556,271.5 556.4,271 556.8,271.4 557.2,271.3 557.6,271.4 558,271.4 558.4,271.2 558.8,271.4 559.2,271.9 559.6,270.9 560,271.5 560.4,271.6 560.8,271.2 561.2,271.2 561.6,272.1 562,271.5 562.4,272.1 562.8,271.8 563.2,271.7 563.6,271.8 564,271.9 564.4,272 564.8,271.9 565.2,271.8 565.6,271.9 566,272.2 566.4,272.1 566.8,271.6 567.2,271.8 567.6,272 568,271.8 568.4,271.9 568.8,271.8 569.2,271.9 569.6,272 570,272.1 570.4,271.7 570.8,272.2 571.2,271.6 571.6,272.3 572,271.7 572.4,271.5 572.8,271.2 573.2,270.5 573.6,271.1 574,271.1 574.4,271.5 574.8,270.6 575.2,271.3 575.6,270.7 576,270.9 576.4,270 576.8,270.6 577.2,270.4 577.6,270.5 578,270.3 578.4,269.9 578.8,270.4 579.2,270.2 579.6,270.1 580,270.1 580.4,270.1 580.8,269.7 581.2,269.3 581.6,269.2 582,269.8 582.4,269.6 582.8,269.4 583.2,269.2 583.6,269.2 584,269.1 584.4,269 584.8,268.8 585.2,269.5 585.6,269 586,268.7 586.4,268.5 586.8,268.6 587.2,268.9 587.6,268.9 588,268.7 588.4,268.8 588.8,268.7 589.2,268.7 589.6,269.4 590,269.5 590.4,270.4" fill="none" stroke="#4e4e22" stroke-width="1.45" stroke-linejoin="round" stroke-linecap="round" />
<path d="M606.4,265.5 606.8,265.4 607.2,264.2 607.6,263.8 608,263.3 608.4,262.8 608.8,263.2 609.2,262.7 609.6,262.6 610,262.7 610.4,262.7 610.8,261.7 611.2,262 611.6,261.8 612,261.5 612.4,261.4 612.8,261.1 613.2,261.4 613.6,261 614,260.8 614.4,260.9 614.8,260.7 615.2,260.5 615.6,260.3 616,260.5 616.4,260.1 616.8,259.8 617.2,259.5 617.6,259.5 618,259.2 618.4,259.4 618.8,259.3 619.2,258.7 619.6,259.1 620,259.1 620.4,258.9 620.8,258.5 621.2,259 621.6,258.4 622,258.1 622.4,258.1 622.8,258.2 623.2,258.4 623.6,258.3 624,258 624.4,257.5 624.8,257.6 625.2,257.4 625.6,257.5 626,257 626.4,257.3 626.8,257.4 627.2,257.1 627.6,257.1 628,256.7 628.4,256.4 628.8,256.5 629.2,256.9 629.6,256.8 630,256.3 630.4,256.6 630.8,256.1 631.2,256.5 631.6,256.1 632,255.8 632.4,256 632.8,255.5 633.2,255.3 633.6,255.1 634,255.4 634.4,255.3 634.8,255.2 635.2,255 635.6,255.4 636,254.8 636.4,254.7 636.8,255.1 637.2,255 637.6,254.7 638,254.1 638.4,254.3 638.8,254.5 639.2,254.3 639.6,254.6 640,253.8 640.4,254.2 640.8,253.8 641.2,254.2 641.6,253.8 642,254 642.4,253.5 642.8,253.2 643.2,253.2 643.6,253.2 644,253.1 644.4,253.5 644.8,253.5 645.2,253.1 645.6,252.7 646,252.9 646.4,252.7 646.8,253.1 647.2,252.7 647.6,252.7 648,252.4 648.4,251.9 648.8,252.2 649.2,252 649.6,252.3 650,252.1 650.4,251.8 650.8,251.9 651.2,252.3 651.6,251.5 652,251.5 652.4,251.6 652.8,251.4 653.2,251.4 653.6,251.5 654,251.7 654.4,250.8 654.8,251.1 655.2,251.1 655.6,251 656,250.9 656.4,250.7 656.8,251 657.2,250.6 657.6,250.6 658,250.5 658.4,250.5 658.8,250.3 659,250.6" fill="none" stroke="#4e4e22" stroke-width="1.45" stroke-linejoin="round" stroke-linecap="round" />
<text x="408.4" y="325.4" font-family='"Liberation Sans", sans-serif' font-size="8.2" font-weight="bold" fill="#222" text-anchor="middle" >15</text>
<text x="429" y="334.8" font-family='"Liberation Sans", sans-serif' font-size="8.2" font-weight="bold" fill="#222" text-anchor="middle" >20</text>
<text x="450" y="344.2" font-family='"Liberation Sans", sans-serif' font-size="8.2" font-weight="bold" fill="#222" text-anchor="middle" >25</text>
<text x="471.2" y="353.1" font-family='"Liberation Sans", sans-serif' font-size="8.2" font-weight="bold" fill="#222" text-anchor="middle" >30</text>
<text x="492.5" y="362" font-family='"Liberation Sans", sans-serif' font-size="8.2" font-weight="bold" fill="#222" text-anchor="middle" >35</text>
<text x="513.3" y="371.8" font-family='"Liberation Sans", sans-serif' font-size="8.2" font-weight="bold" fill="#222" text-anchor="middle" >40</text>
<text x="554.5" y="367.2" font-family='"Liberation Sans", sans-serif' font-size="8.2" font-weight="bold" fill="#222" text-anchor="middle" >-400</text>
<text x="582.3" y="361" font-family='"Liberation Sans", sans-serif' font-size="8.2" font-weight="bold" fill="#222" text-anchor="middle" >-200</text>
<text x="604" y="353.7" font-family='"Liberation Sans", sans-serif' font-size="8.2" font-weight="bold" fill="#222" text-anchor="middle" >0</text>
<text x="635.2" y="345.9" font-family='"Liberation Sans", sans-serif' font-size="8.2" font-weight="bold" fill="#222" text-anchor="middle" >200</text>
<text x="663" y="338.9" font-family='"Liberation Sans", sans-serif' font-size="8.2" font-weight="bold" fill="#222" text-anchor="middle" >400</text>
<text x="389" y="314.6" font-family='"Liberation Serif", serif' font-size="11.2" font-weight="bold" fill="#1a1a1a" text-anchor="start" textLength="95.3" lengthAdjust="spacingAndGlyphs" transform="rotate(-90 389 314.6)" >Normalized Amplitude</text>
<text x="399.8" y="282.5" font-family='"Liberation Serif", serif' font-size="11" font-weight="bold" fill="#1a1a1a" text-anchor="start" textLength="46.5" lengthAdjust="spacingAndGlyphs" transform="rotate(-90 399.8 282.5)" >(10 dB/div)</text>
<text x="381" y="328.3" font-family='"Liberation Serif", serif' font-size="10.6" font-weight="bold" fill="#1a1a1a" text-anchor="start" textLength="120" lengthAdjust="spacingAndGlyphs" transform="rotate(26.3 381 328.3)" >Central RF Frequency (GHz)</text>
<text x="585.5" y="375.3" font-family='"Liberation Serif", serif' font-size="10.6" font-weight="bold" fill="#1a1a1a" text-anchor="start" textLength="48" lengthAdjust="spacingAndGlyphs" transform="rotate(-14.5 585.5 375.3)" >Normalized</text>
<text x="557.5" y="395.2" font-family='"Liberation Serif", serif' font-size="10.6" font-weight="bold" fill="#1a1a1a" text-anchor="start" textLength="89" lengthAdjust="spacingAndGlyphs" transform="rotate(-14.5 557.5 395.2)" >RF Frequency (MHz)</text>
</svg>
</body></html>
